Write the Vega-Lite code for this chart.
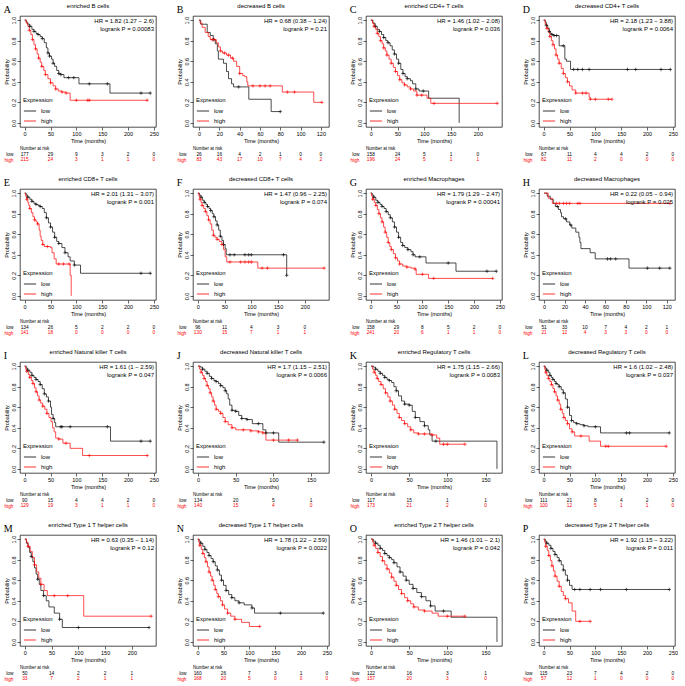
{
"$schema":"https://vega.github.io/schema/vega-lite/v6.json",
"padding":{"left":3,"top":2,"right":0,"bottom":0},
"columns":4,
"spacing":{"row":12,"column":17},
"resolve":{"scale":{"color":"independent"},"legend":{"color":"independent"}},
"datasets":{
"hr":[
{"p":"A","txt":"HR = 1.82 (1.27 − 2.6)\nlogrank P = 0.00083"},
{"p":"B","txt":"HR = 0.68 (0.38 − 1.24)\nlogrank P = 0.21"},
{"p":"C","txt":"HR = 1.46 (1.02 − 2.08)\nlogrank P = 0.036"},
{"p":"D","txt":"HR = 2.18 (1.23 − 3.88)\nlogrank P = 0.0064"},
{"p":"E","txt":"HR = 2.01 (1.31 − 3.07)\nlogrank P = 0.001"},
{"p":"F","txt":"HR = 1.47 (0.96 − 2.25)\nlogrank P = 0.074"},
{"p":"G","txt":"HR = 1.79 (1.29 − 2.47)\nlogrank P = 0.00041"},
{"p":"H","txt":"HR = 0.22 (0.05 − 0.94)\nlogrank P = 0.025"},
{"p":"I","txt":"HR = 1.61 (1 − 2.59)\nlogrank P = 0.047"},
{"p":"J","txt":"HR = 1.7 (1.15 − 2.51)\nlogrank P = 0.0066"},
{"p":"K","txt":"HR = 1.75 (1.15 − 2.66)\nlogrank P = 0.0083"},
{"p":"L","txt":"HR = 1.6 (1.02 − 2.48)\nlogrank P = 0.037"},
{"p":"M","txt":"HR = 0.63 (0.35 − 1.14)\nlogrank P = 0.12"},
{"p":"N","txt":"HR = 1.78 (1.22 − 2.59)\nlogrank P = 0.0022"},
{"p":"O","txt":"HR = 1.46 (1.01 − 2.1)\nlogrank P = 0.042"},
{"p":"P","txt":"HR = 1.92 (1.15 − 3.22)\nlogrank P = 0.011"}
],
"risk":[
{"p":"A","g":"low","t":0,"n":177},{"p":"A","g":"low","t":50,"n":29},{"p":"A","g":"low","t":100,"n":9},{"p":"A","g":"low","t":150,"n":3},{"p":"A","g":"low","t":200,"n":2},{"p":"A","g":"low","t":250,"n":0},
{"p":"A","g":"high","t":0,"n":215},{"p":"A","g":"high","t":50,"n":24},{"p":"A","g":"high","t":100,"n":3},{"p":"A","g":"high","t":150,"n":1},{"p":"A","g":"high","t":200,"n":1},{"p":"A","g":"high","t":250,"n":0},
{"p":"B","g":"low","t":0,"n":26},{"p":"B","g":"low","t":20,"n":16},{"p":"B","g":"low","t":40,"n":4},{"p":"B","g":"low","t":60,"n":2},{"p":"B","g":"low","t":80,"n":1},{"p":"B","g":"low","t":100,"n":0},{"p":"B","g":"low","t":120,"n":0},
{"p":"B","g":"high","t":0,"n":83},{"p":"B","g":"high","t":20,"n":43},{"p":"B","g":"high","t":40,"n":17},{"p":"B","g":"high","t":60,"n":10},{"p":"B","g":"high","t":80,"n":7},{"p":"B","g":"high","t":100,"n":4},{"p":"B","g":"high","t":120,"n":2},
{"p":"C","g":"low","t":0,"n":158},{"p":"C","g":"low","t":50,"n":24},{"p":"C","g":"low","t":100,"n":5},{"p":"C","g":"low","t":150,"n":1},{"p":"C","g":"low","t":200,"n":0},
{"p":"C","g":"high","t":0,"n":196},{"p":"C","g":"high","t":50,"n":24},{"p":"C","g":"high","t":100,"n":5},{"p":"C","g":"high","t":150,"n":1},{"p":"C","g":"high","t":200,"n":1},
{"p":"D","g":"low","t":0,"n":67},{"p":"D","g":"low","t":50,"n":11},{"p":"D","g":"low","t":100,"n":4},{"p":"D","g":"low","t":150,"n":4},{"p":"D","g":"low","t":200,"n":2},{"p":"D","g":"low","t":250,"n":0},
{"p":"D","g":"high","t":0,"n":82},{"p":"D","g":"high","t":50,"n":11},{"p":"D","g":"high","t":100,"n":2},{"p":"D","g":"high","t":150,"n":0},{"p":"D","g":"high","t":200,"n":0},{"p":"D","g":"high","t":250,"n":0},
{"p":"E","g":"low","t":0,"n":134},{"p":"E","g":"low","t":50,"n":26},{"p":"E","g":"low","t":100,"n":5},{"p":"E","g":"low","t":150,"n":2},{"p":"E","g":"low","t":200,"n":2},{"p":"E","g":"low","t":250,"n":0},
{"p":"E","g":"high","t":0,"n":141},{"p":"E","g":"high","t":50,"n":18},{"p":"E","g":"high","t":100,"n":0},{"p":"E","g":"high","t":150,"n":0},{"p":"E","g":"high","t":200,"n":0},{"p":"E","g":"high","t":250,"n":0},
{"p":"F","g":"low","t":0,"n":96},{"p":"F","g":"low","t":50,"n":11},{"p":"F","g":"low","t":100,"n":4},{"p":"F","g":"low","t":150,"n":3},{"p":"F","g":"low","t":200,"n":0},
{"p":"F","g":"high","t":0,"n":130},{"p":"F","g":"high","t":50,"n":15},{"p":"F","g":"high","t":100,"n":7},{"p":"F","g":"high","t":150,"n":1},{"p":"F","g":"high","t":200,"n":1},
{"p":"G","g":"low","t":0,"n":158},{"p":"G","g":"low","t":50,"n":29},{"p":"G","g":"low","t":100,"n":8},{"p":"G","g":"low","t":150,"n":5},{"p":"G","g":"low","t":200,"n":2},{"p":"G","g":"low","t":250,"n":0},
{"p":"G","g":"high","t":0,"n":241},{"p":"G","g":"high","t":50,"n":20},{"p":"G","g":"high","t":100,"n":6},{"p":"G","g":"high","t":150,"n":1},{"p":"G","g":"high","t":200,"n":1},{"p":"G","g":"high","t":250,"n":0},
{"p":"H","g":"low","t":0,"n":51},{"p":"H","g":"low","t":20,"n":33},{"p":"H","g":"low","t":40,"n":10},{"p":"H","g":"low","t":60,"n":7},{"p":"H","g":"low","t":80,"n":4},{"p":"H","g":"low","t":100,"n":2},{"p":"H","g":"low","t":120,"n":1},
{"p":"H","g":"high","t":0,"n":21},{"p":"H","g":"high","t":20,"n":12},{"p":"H","g":"high","t":40,"n":4},{"p":"H","g":"high","t":60,"n":3},{"p":"H","g":"high","t":80,"n":3},{"p":"H","g":"high","t":100,"n":0},{"p":"H","g":"high","t":120,"n":0},
{"p":"I","g":"low","t":0,"n":90},{"p":"I","g":"low","t":50,"n":15},{"p":"I","g":"low","t":100,"n":4},{"p":"I","g":"low","t":150,"n":4},{"p":"I","g":"low","t":200,"n":2},{"p":"I","g":"low","t":250,"n":0},
{"p":"I","g":"high","t":0,"n":129},{"p":"I","g":"high","t":50,"n":19},{"p":"I","g":"high","t":100,"n":3},{"p":"I","g":"high","t":150,"n":1},{"p":"I","g":"high","t":200,"n":1},{"p":"I","g":"high","t":250,"n":0},
{"p":"J","g":"low","t":0,"n":134},{"p":"J","g":"low","t":50,"n":20},{"p":"J","g":"low","t":100,"n":5},{"p":"J","g":"low","t":150,"n":1},
{"p":"J","g":"high","t":0,"n":140},{"p":"J","g":"high","t":50,"n":15},{"p":"J","g":"high","t":100,"n":4},{"p":"J","g":"high","t":150,"n":0},
{"p":"K","g":"low","t":0,"n":117},{"p":"K","g":"low","t":50,"n":15},{"p":"K","g":"low","t":100,"n":1},{"p":"K","g":"low","t":150,"n":1},
{"p":"K","g":"high","t":0,"n":173},{"p":"K","g":"high","t":50,"n":21},{"p":"K","g":"high","t":100,"n":2},{"p":"K","g":"high","t":150,"n":0},
{"p":"L","g":"low","t":0,"n":111},{"p":"L","g":"low","t":50,"n":21},{"p":"L","g":"low","t":100,"n":8},{"p":"L","g":"low","t":150,"n":4},{"p":"L","g":"low","t":200,"n":2},{"p":"L","g":"low","t":250,"n":0},
{"p":"L","g":"high","t":0,"n":100},{"p":"L","g":"high","t":50,"n":12},{"p":"L","g":"high","t":100,"n":5},{"p":"L","g":"high","t":150,"n":1},{"p":"L","g":"high","t":200,"n":1},{"p":"L","g":"high","t":250,"n":0},
{"p":"M","g":"low","t":0,"n":50},{"p":"M","g":"low","t":50,"n":14},{"p":"M","g":"low","t":100,"n":2},{"p":"M","g":"low","t":150,"n":2},{"p":"M","g":"low","t":200,"n":1},
{"p":"M","g":"high","t":0,"n":33},{"p":"M","g":"high","t":50,"n":7},{"p":"M","g":"high","t":100,"n":2},{"p":"M","g":"high","t":150,"n":1},{"p":"M","g":"high","t":200,"n":1},
{"p":"N","g":"low","t":0,"n":160},{"p":"N","g":"low","t":50,"n":26},{"p":"N","g":"low","t":100,"n":7},{"p":"N","g":"low","t":150,"n":3},{"p":"N","g":"low","t":200,"n":1},{"p":"N","g":"low","t":250,"n":0},
{"p":"N","g":"high","t":0,"n":168},{"p":"N","g":"high","t":50,"n":20},{"p":"N","g":"high","t":100,"n":5},{"p":"N","g":"high","t":150,"n":0},{"p":"N","g":"high","t":200,"n":0},{"p":"N","g":"high","t":250,"n":0},
{"p":"O","g":"low","t":0,"n":122},{"p":"O","g":"low","t":50,"n":16},{"p":"O","g":"low","t":100,"n":3},{"p":"O","g":"low","t":150,"n":1},
{"p":"O","g":"high","t":0,"n":157},{"p":"O","g":"high","t":50,"n":20},{"p":"O","g":"high","t":100,"n":3},{"p":"O","g":"high","t":150,"n":0},
{"p":"P","g":"low","t":0,"n":115},{"p":"P","g":"low","t":50,"n":23},{"p":"P","g":"low","t":100,"n":7},{"p":"P","g":"low","t":150,"n":4},{"p":"P","g":"low","t":200,"n":2},{"p":"P","g":"low","t":250,"n":0},
{"p":"P","g":"high","t":0,"n":57},{"p":"P","g":"high","t":50,"n":12},{"p":"P","g":"high","t":100,"n":1},{"p":"P","g":"high","t":150,"n":0},{"p":"P","g":"high","t":200,"n":0},{"p":"P","g":"high","t":250,"n":0}
],
"km":[
{"p":"A","g":"low","t":0,"s":1},{"p":"A","g":"low","t":3,"s":0.98},{"p":"A","g":"low","t":6,"s":0.96},{"p":"A","g":"low","t":10,"s":0.94,"c":1},{"p":"A","g":"low","t":14,"s":0.91},{"p":"A","g":"low","t":18,"s":0.89,"c":1},{"p":"A","g":"low","t":22,"s":0.87},{"p":"A","g":"low","t":26,"s":0.86,"c":1},{"p":"A","g":"low","t":30,"s":0.84},{"p":"A","g":"low","t":34,"s":0.82,"c":1},{"p":"A","g":"low","t":38,"s":0.78},{"p":"A","g":"low","t":42,"s":0.73},{"p":"A","g":"low","t":45,"s":0.68,"c":1},{"p":"A","g":"low","t":48,"s":0.65,"c":1},{"p":"A","g":"low","t":52,"s":0.62},{"p":"A","g":"low","t":55,"s":0.58,"c":1},{"p":"A","g":"low","t":58,"s":0.55},{"p":"A","g":"low","t":62,"s":0.51},{"p":"A","g":"low","t":66,"s":0.48,"c":1},{"p":"A","g":"low","t":70,"s":0.47,"c":1},{"p":"A","g":"low","t":76,"s":0.44},{"p":"A","g":"low","t":85,"s":0.44,"c":1},{"p":"A","g":"low","t":95,"s":0.44,"c":1},{"p":"A","g":"low","t":105,"s":0.38},{"p":"A","g":"low","t":125,"s":0.38,"c":1},{"p":"A","g":"low","t":160,"s":0.38,"c":1},{"p":"A","g":"low","t":165,"s":0.29},{"p":"A","g":"low","t":225,"s":0.29,"c":1},{"p":"A","g":"low","t":243,"s":0.29,"c":1},
{"p":"A","g":"high","t":0,"s":1},{"p":"A","g":"high","t":3,"s":0.97},{"p":"A","g":"high","t":6,"s":0.94},{"p":"A","g":"high","t":9,"s":0.9,"c":1},{"p":"A","g":"high","t":12,"s":0.86},{"p":"A","g":"high","t":15,"s":0.81,"c":1},{"p":"A","g":"high","t":18,"s":0.76},{"p":"A","g":"high","t":21,"s":0.72,"c":1},{"p":"A","g":"high","t":24,"s":0.67},{"p":"A","g":"high","t":27,"s":0.63,"c":1},{"p":"A","g":"high","t":30,"s":0.59},{"p":"A","g":"high","t":33,"s":0.55,"c":1},{"p":"A","g":"high","t":37,"s":0.51},{"p":"A","g":"high","t":40,"s":0.47,"c":1},{"p":"A","g":"high","t":45,"s":0.43},{"p":"A","g":"high","t":50,"s":0.39,"c":1},{"p":"A","g":"high","t":55,"s":0.36},{"p":"A","g":"high","t":60,"s":0.33,"c":1},{"p":"A","g":"high","t":65,"s":0.31},{"p":"A","g":"high","t":72,"s":0.3,"c":1},{"p":"A","g":"high","t":80,"s":0.29,"c":1},{"p":"A","g":"high","t":88,"s":0.22},{"p":"A","g":"high","t":100,"s":0.22,"c":1},{"p":"A","g":"high","t":122,"s":0.22,"c":1},{"p":"A","g":"high","t":125,"s":0.22,"c":1},{"p":"A","g":"high","t":237,"s":0.22,"c":1},
{"p":"B","g":"low","t":0,"s":1},{"p":"B","g":"low","t":1.6,"s":0.96},{"p":"B","g":"low","t":8,"s":0.88},{"p":"B","g":"low","t":11,"s":0.85},{"p":"B","g":"low","t":14,"s":0.81,"c":1},{"p":"B","g":"low","t":16,"s":0.77},{"p":"B","g":"low","t":18,"s":0.7},{"p":"B","g":"low","t":19,"s":0.62},{"p":"B","g":"low","t":24,"s":0.58},{"p":"B","g":"low","t":27,"s":0.5},{"p":"B","g":"low","t":29,"s":0.43},{"p":"B","g":"low","t":32,"s":0.38},{"p":"B","g":"low","t":34,"s":0.35},{"p":"B","g":"low","t":39,"s":0.35,"c":1},{"p":"B","g":"low","t":49,"s":0.23},{"p":"B","g":"low","t":71,"s":0.11},{"p":"B","g":"low","t":80,"s":0.11,"c":1},
{"p":"B","g":"high","t":0,"s":1},{"p":"B","g":"high","t":1,"s":0.97},{"p":"B","g":"high","t":3,"s":0.93},{"p":"B","g":"high","t":6,"s":0.88},{"p":"B","g":"high","t":9,"s":0.84},{"p":"B","g":"high","t":11,"s":0.81},{"p":"B","g":"high","t":13,"s":0.81,"c":1},{"p":"B","g":"high","t":15,"s":0.81,"c":1},{"p":"B","g":"high","t":17,"s":0.78},{"p":"B","g":"high","t":19,"s":0.74},{"p":"B","g":"high","t":21,"s":0.7,"c":1},{"p":"B","g":"high","t":23,"s":0.68},{"p":"B","g":"high","t":25,"s":0.68,"c":1},{"p":"B","g":"high","t":27,"s":0.66},{"p":"B","g":"high","t":29,"s":0.66,"c":1},{"p":"B","g":"high","t":31,"s":0.63},{"p":"B","g":"high","t":33,"s":0.63,"c":1},{"p":"B","g":"high","t":34,"s":0.6},{"p":"B","g":"high","t":37,"s":0.55},{"p":"B","g":"high","t":40,"s":0.48,"c":1},{"p":"B","g":"high","t":43,"s":0.46},{"p":"B","g":"high","t":45,"s":0.45},{"p":"B","g":"high","t":47,"s":0.4},{"p":"B","g":"high","t":48,"s":0.36},{"p":"B","g":"high","t":53,"s":0.36,"c":1},{"p":"B","g":"high","t":60,"s":0.36,"c":1},{"p":"B","g":"high","t":65,"s":0.36,"c":1},{"p":"B","g":"high","t":70,"s":0.36,"c":1},{"p":"B","g":"high","t":82,"s":0.3},{"p":"B","g":"high","t":87,"s":0.3,"c":1},{"p":"B","g":"high","t":94,"s":0.3,"c":1},{"p":"B","g":"high","t":113,"s":0.2},{"p":"B","g":"high","t":121,"s":0.2,"c":1},
{"p":"C","g":"low","t":0,"s":1},{"p":"C","g":"low","t":4,"s":0.97},{"p":"C","g":"low","t":8,"s":0.94,"c":1},{"p":"C","g":"low","t":12,"s":0.91},{"p":"C","g":"low","t":16,"s":0.89,"c":1},{"p":"C","g":"low","t":20,"s":0.86},{"p":"C","g":"low","t":24,"s":0.83,"c":1},{"p":"C","g":"low","t":28,"s":0.8},{"p":"C","g":"low","t":32,"s":0.78,"c":1},{"p":"C","g":"low","t":36,"s":0.75},{"p":"C","g":"low","t":40,"s":0.71},{"p":"C","g":"low","t":44,"s":0.67,"c":1},{"p":"C","g":"low","t":48,"s":0.62},{"p":"C","g":"low","t":52,"s":0.58,"c":1},{"p":"C","g":"low","t":56,"s":0.52},{"p":"C","g":"low","t":60,"s":0.48,"c":1},{"p":"C","g":"low","t":64,"s":0.45},{"p":"C","g":"low","t":68,"s":0.43,"c":1},{"p":"C","g":"low","t":74,"s":0.41},{"p":"C","g":"low","t":78,"s":0.38},{"p":"C","g":"low","t":84,"s":0.33,"c":1},{"p":"C","g":"low","t":90,"s":0.31},{"p":"C","g":"low","t":98,"s":0.31,"c":1},{"p":"C","g":"low","t":108,"s":0.24},{"p":"C","g":"low","t":165,"s":0},
{"p":"C","g":"high","t":0,"s":1},{"p":"C","g":"high","t":3,"s":0.97},{"p":"C","g":"high","t":6,"s":0.94,"c":1},{"p":"C","g":"high","t":9,"s":0.91},{"p":"C","g":"high","t":12,"s":0.87,"c":1},{"p":"C","g":"high","t":15,"s":0.84},{"p":"C","g":"high","t":18,"s":0.8,"c":1},{"p":"C","g":"high","t":21,"s":0.77},{"p":"C","g":"high","t":24,"s":0.73,"c":1},{"p":"C","g":"high","t":27,"s":0.7},{"p":"C","g":"high","t":30,"s":0.66,"c":1},{"p":"C","g":"high","t":34,"s":0.62},{"p":"C","g":"high","t":38,"s":0.58,"c":1},{"p":"C","g":"high","t":42,"s":0.54},{"p":"C","g":"high","t":46,"s":0.5,"c":1},{"p":"C","g":"high","t":50,"s":0.46},{"p":"C","g":"high","t":54,"s":0.42,"c":1},{"p":"C","g":"high","t":58,"s":0.39},{"p":"C","g":"high","t":63,"s":0.37,"c":1},{"p":"C","g":"high","t":68,"s":0.35},{"p":"C","g":"high","t":74,"s":0.33,"c":1},{"p":"C","g":"high","t":80,"s":0.31},{"p":"C","g":"high","t":86,"s":0.27,"c":1},{"p":"C","g":"high","t":95,"s":0.27,"c":1},{"p":"C","g":"high","t":105,"s":0.24},{"p":"C","g":"high","t":112,"s":0.19},{"p":"C","g":"high","t":118,"s":0.19,"c":1},{"p":"C","g":"high","t":236,"s":0.19,"c":1},
{"p":"D","g":"low","t":0,"s":1},{"p":"D","g":"low","t":3,"s":0.98},{"p":"D","g":"low","t":5,"s":0.95,"c":1},{"p":"D","g":"low","t":8,"s":0.92},{"p":"D","g":"low","t":11,"s":0.89,"c":1},{"p":"D","g":"low","t":13,"s":0.87},{"p":"D","g":"low","t":16,"s":0.86,"c":1},{"p":"D","g":"low","t":20,"s":0.85,"c":1},{"p":"D","g":"low","t":25,"s":0.85,"c":1},{"p":"D","g":"low","t":30,"s":0.75},{"p":"D","g":"low","t":38,"s":0.75,"c":1},{"p":"D","g":"low","t":41,"s":0.62},{"p":"D","g":"low","t":44,"s":0.6},{"p":"D","g":"low","t":52,"s":0.52},{"p":"D","g":"low","t":58,"s":0.52,"c":1},{"p":"D","g":"low","t":66,"s":0.52,"c":1},{"p":"D","g":"low","t":75,"s":0.52,"c":1},{"p":"D","g":"low","t":88,"s":0.52,"c":1},{"p":"D","g":"low","t":162,"s":0.52,"c":1},{"p":"D","g":"low","t":178,"s":0.52,"c":1},{"p":"D","g":"low","t":227,"s":0.52,"c":1},{"p":"D","g":"low","t":245,"s":0.52,"c":1},
{"p":"D","g":"high","t":0,"s":1},{"p":"D","g":"high","t":3,"s":0.96},{"p":"D","g":"high","t":6,"s":0.92,"c":1},{"p":"D","g":"high","t":9,"s":0.88},{"p":"D","g":"high","t":12,"s":0.84,"c":1},{"p":"D","g":"high","t":15,"s":0.8},{"p":"D","g":"high","t":18,"s":0.76,"c":1},{"p":"D","g":"high","t":21,"s":0.72},{"p":"D","g":"high","t":24,"s":0.66,"c":1},{"p":"D","g":"high","t":27,"s":0.62},{"p":"D","g":"high","t":30,"s":0.58,"c":1},{"p":"D","g":"high","t":34,"s":0.53},{"p":"D","g":"high","t":38,"s":0.48,"c":1},{"p":"D","g":"high","t":42,"s":0.44},{"p":"D","g":"high","t":46,"s":0.4,"c":1},{"p":"D","g":"high","t":50,"s":0.36},{"p":"D","g":"high","t":55,"s":0.32},{"p":"D","g":"high","t":62,"s":0.29,"c":1},{"p":"D","g":"high","t":75,"s":0.29,"c":1},{"p":"D","g":"high","t":82,"s":0.29,"c":1},{"p":"D","g":"high","t":88,"s":0.25},{"p":"D","g":"high","t":90,"s":0.23,"c":1},{"p":"D","g":"high","t":100,"s":0.23,"c":1},{"p":"D","g":"high","t":125,"s":0.23,"c":1},{"p":"D","g":"high","t":132,"s":0.23,"c":1},
{"p":"E","g":"low","t":0,"s":1},{"p":"E","g":"low","t":3,"s":0.98},{"p":"E","g":"low","t":6,"s":0.96,"c":1},{"p":"E","g":"low","t":10,"s":0.94},{"p":"E","g":"low","t":14,"s":0.92,"c":1},{"p":"E","g":"low","t":18,"s":0.9},{"p":"E","g":"low","t":22,"s":0.89,"c":1},{"p":"E","g":"low","t":26,"s":0.88},{"p":"E","g":"low","t":30,"s":0.87,"c":1},{"p":"E","g":"low","t":34,"s":0.85},{"p":"E","g":"low","t":38,"s":0.81},{"p":"E","g":"low","t":42,"s":0.76,"c":1},{"p":"E","g":"low","t":46,"s":0.71},{"p":"E","g":"low","t":50,"s":0.67,"c":1},{"p":"E","g":"low","t":54,"s":0.62},{"p":"E","g":"low","t":58,"s":0.57,"c":1},{"p":"E","g":"low","t":62,"s":0.53},{"p":"E","g":"low","t":66,"s":0.51,"c":1},{"p":"E","g":"low","t":72,"s":0.47},{"p":"E","g":"low","t":78,"s":0.42,"c":1},{"p":"E","g":"low","t":84,"s":0.38},{"p":"E","g":"low","t":88,"s":0.34},{"p":"E","g":"low","t":96,"s":0.3,"c":1},{"p":"E","g":"low","t":108,"s":0.22},{"p":"E","g":"low","t":225,"s":0.22,"c":1},{"p":"E","g":"low","t":243,"s":0.22,"c":1},
{"p":"E","g":"high","t":0,"s":1},{"p":"E","g":"high","t":2,"s":0.97},{"p":"E","g":"high","t":4,"s":0.94,"c":1},{"p":"E","g":"high","t":6,"s":0.91},{"p":"E","g":"high","t":8,"s":0.88},{"p":"E","g":"high","t":10,"s":0.85,"c":1},{"p":"E","g":"high","t":13,"s":0.81},{"p":"E","g":"high","t":16,"s":0.77},{"p":"E","g":"high","t":19,"s":0.74,"c":1},{"p":"E","g":"high","t":22,"s":0.72},{"p":"E","g":"high","t":25,"s":0.7,"c":1},{"p":"E","g":"high","t":28,"s":0.64},{"p":"E","g":"high","t":30,"s":0.58},{"p":"E","g":"high","t":32,"s":0.54},{"p":"E","g":"high","t":35,"s":0.5,"c":1},{"p":"E","g":"high","t":38,"s":0.48},{"p":"E","g":"high","t":44,"s":0.48,"c":1},{"p":"E","g":"high","t":50,"s":0.47},{"p":"E","g":"high","t":53,"s":0.42},{"p":"E","g":"high","t":57,"s":0.36},{"p":"E","g":"high","t":61,"s":0.31},{"p":"E","g":"high","t":66,"s":0.31,"c":1},{"p":"E","g":"high","t":75,"s":0.31,"c":1},{"p":"E","g":"high","t":86,"s":0.31,"c":1},{"p":"E","g":"high","t":88,"s":0.2},{"p":"E","g":"high","t":90,"s":0},
{"p":"F","g":"low","t":0,"s":1},{"p":"F","g":"low","t":3,"s":0.98},{"p":"F","g":"low","t":6,"s":0.96,"c":1},{"p":"F","g":"low","t":9,"s":0.93},{"p":"F","g":"low","t":12,"s":0.91,"c":1},{"p":"F","g":"low","t":15,"s":0.89},{"p":"F","g":"low","t":18,"s":0.87,"c":1},{"p":"F","g":"low","t":21,"s":0.85},{"p":"F","g":"low","t":24,"s":0.83,"c":1},{"p":"F","g":"low","t":27,"s":0.8},{"p":"F","g":"low","t":30,"s":0.77,"c":1},{"p":"F","g":"low","t":33,"s":0.73},{"p":"F","g":"low","t":36,"s":0.69,"c":1},{"p":"F","g":"low","t":39,"s":0.64},{"p":"F","g":"low","t":42,"s":0.58,"c":1},{"p":"F","g":"low","t":45,"s":0.54},{"p":"F","g":"low","t":48,"s":0.5,"c":1},{"p":"F","g":"low","t":51,"s":0.46},{"p":"F","g":"low","t":53,"s":0.4},{"p":"F","g":"low","t":60,"s":0.4,"c":1},{"p":"F","g":"low","t":68,"s":0.4,"c":1},{"p":"F","g":"low","t":88,"s":0.4,"c":1},{"p":"F","g":"low","t":95,"s":0.4,"c":1},{"p":"F","g":"low","t":100,"s":0.4,"c":1},{"p":"F","g":"low","t":160,"s":0.4,"c":1},{"p":"F","g":"low","t":166,"s":0.2,"c":1},
{"p":"F","g":"high","t":0,"s":1},{"p":"F","g":"high","t":2,"s":0.97},{"p":"F","g":"high","t":4,"s":0.94,"c":1},{"p":"F","g":"high","t":6,"s":0.91},{"p":"F","g":"high","t":8,"s":0.88,"c":1},{"p":"F","g":"high","t":11,"s":0.85},{"p":"F","g":"high","t":14,"s":0.82,"c":1},{"p":"F","g":"high","t":17,"s":0.78},{"p":"F","g":"high","t":20,"s":0.74,"c":1},{"p":"F","g":"high","t":23,"s":0.7},{"p":"F","g":"high","t":26,"s":0.64},{"p":"F","g":"high","t":29,"s":0.59,"c":1},{"p":"F","g":"high","t":32,"s":0.57},{"p":"F","g":"high","t":36,"s":0.55,"c":1},{"p":"F","g":"high","t":40,"s":0.53},{"p":"F","g":"high","t":45,"s":0.5,"c":1},{"p":"F","g":"high","t":48,"s":0.45},{"p":"F","g":"high","t":51,"s":0.38},{"p":"F","g":"high","t":54,"s":0.33},{"p":"F","g":"high","t":60,"s":0.33,"c":1},{"p":"F","g":"high","t":80,"s":0.33,"c":1},{"p":"F","g":"high","t":88,"s":0.33,"c":1},{"p":"F","g":"high","t":95,"s":0.33,"c":1},{"p":"F","g":"high","t":100,"s":0.33,"c":1},{"p":"F","g":"high","t":112,"s":0.27},{"p":"F","g":"high","t":120,"s":0.27,"c":1},{"p":"F","g":"high","t":130,"s":0.27,"c":1},{"p":"F","g":"high","t":236,"s":0.27,"c":1},
{"p":"G","g":"low","t":0,"s":1},{"p":"G","g":"low","t":3,"s":0.98},{"p":"G","g":"low","t":6,"s":0.96,"c":1},{"p":"G","g":"low","t":10,"s":0.93},{"p":"G","g":"low","t":14,"s":0.91,"c":1},{"p":"G","g":"low","t":18,"s":0.89},{"p":"G","g":"low","t":22,"s":0.87,"c":1},{"p":"G","g":"low","t":26,"s":0.85},{"p":"G","g":"low","t":30,"s":0.82,"c":1},{"p":"G","g":"low","t":34,"s":0.79},{"p":"G","g":"low","t":38,"s":0.76,"c":1},{"p":"G","g":"low","t":42,"s":0.72},{"p":"G","g":"low","t":46,"s":0.67,"c":1},{"p":"G","g":"low","t":50,"s":0.62},{"p":"G","g":"low","t":54,"s":0.57,"c":1},{"p":"G","g":"low","t":58,"s":0.52},{"p":"G","g":"low","t":62,"s":0.49,"c":1},{"p":"G","g":"low","t":66,"s":0.47},{"p":"G","g":"low","t":72,"s":0.45,"c":1},{"p":"G","g":"low","t":78,"s":0.43},{"p":"G","g":"low","t":82,"s":0.4,"c":1},{"p":"G","g":"low","t":86,"s":0.38},{"p":"G","g":"low","t":95,"s":0.38,"c":1},{"p":"G","g":"low","t":107,"s":0.32},{"p":"G","g":"low","t":150,"s":0.32,"c":1},{"p":"G","g":"low","t":165,"s":0.24},{"p":"G","g":"low","t":225,"s":0.24,"c":1},{"p":"G","g":"low","t":243,"s":0.24,"c":1},
{"p":"G","g":"high","t":0,"s":1},{"p":"G","g":"high","t":2,"s":0.97},{"p":"G","g":"high","t":4,"s":0.94,"c":1},{"p":"G","g":"high","t":7,"s":0.91},{"p":"G","g":"high","t":10,"s":0.88,"c":1},{"p":"G","g":"high","t":13,"s":0.84},{"p":"G","g":"high","t":16,"s":0.8,"c":1},{"p":"G","g":"high","t":19,"s":0.76},{"p":"G","g":"high","t":22,"s":0.72,"c":1},{"p":"G","g":"high","t":25,"s":0.67},{"p":"G","g":"high","t":28,"s":0.62,"c":1},{"p":"G","g":"high","t":31,"s":0.57},{"p":"G","g":"high","t":34,"s":0.52,"c":1},{"p":"G","g":"high","t":37,"s":0.48},{"p":"G","g":"high","t":40,"s":0.45,"c":1},{"p":"G","g":"high","t":44,"s":0.41},{"p":"G","g":"high","t":48,"s":0.37,"c":1},{"p":"G","g":"high","t":52,"s":0.34},{"p":"G","g":"high","t":56,"s":0.31,"c":1},{"p":"G","g":"high","t":62,"s":0.29},{"p":"G","g":"high","t":70,"s":0.28,"c":1},{"p":"G","g":"high","t":78,"s":0.27},{"p":"G","g":"high","t":86,"s":0.26,"c":1},{"p":"G","g":"high","t":88,"s":0.21},{"p":"G","g":"high","t":100,"s":0.21,"c":1},{"p":"G","g":"high","t":112,"s":0.17},{"p":"G","g":"high","t":122,"s":0.17,"c":1},{"p":"G","g":"high","t":236,"s":0.17,"c":1},
{"p":"H","g":"low","t":0,"s":1},{"p":"H","g":"low","t":3,"s":0.97},{"p":"H","g":"low","t":6,"s":0.94},{"p":"H","g":"low","t":9,"s":0.9},{"p":"H","g":"low","t":11,"s":0.87},{"p":"H","g":"low","t":13,"s":0.87,"c":1},{"p":"H","g":"low","t":14,"s":0.84},{"p":"H","g":"low","t":16,"s":0.81},{"p":"H","g":"low","t":17,"s":0.77},{"p":"H","g":"low","t":19,"s":0.75},{"p":"H","g":"low","t":21,"s":0.75,"c":1},{"p":"H","g":"low","t":22,"s":0.72},{"p":"H","g":"low","t":25,"s":0.69},{"p":"H","g":"low","t":26,"s":0.69,"c":1},{"p":"H","g":"low","t":27,"s":0.66},{"p":"H","g":"low","t":31,"s":0.62},{"p":"H","g":"low","t":34,"s":0.57},{"p":"H","g":"low","t":35,"s":0.52},{"p":"H","g":"low","t":36,"s":0.46},{"p":"H","g":"low","t":45,"s":0.42},{"p":"H","g":"low","t":50,"s":0.36},{"p":"H","g":"low","t":62,"s":0.36,"c":1},{"p":"H","g":"low","t":65,"s":0.36,"c":1},{"p":"H","g":"low","t":70,"s":0.36,"c":1},{"p":"H","g":"low","t":83,"s":0.27},{"p":"H","g":"low","t":101,"s":0.27,"c":1},{"p":"H","g":"low","t":113,"s":0.27,"c":1},{"p":"H","g":"low","t":123,"s":0.27,"c":1},
{"p":"H","g":"high","t":0,"s":1},{"p":"H","g":"high","t":4,"s":0.95},{"p":"H","g":"high","t":8,"s":0.9},{"p":"H","g":"high","t":12,"s":0.9,"c":1},{"p":"H","g":"high","t":15,"s":0.9,"c":1},{"p":"H","g":"high","t":19,"s":0.9,"c":1},{"p":"H","g":"high","t":22,"s":0.9,"c":1},{"p":"H","g":"high","t":25,"s":0.9,"c":1},{"p":"H","g":"high","t":33,"s":0.9,"c":1},{"p":"H","g":"high","t":35,"s":0.9,"c":1},{"p":"H","g":"high","t":123,"s":0.9,"c":1},
{"p":"I","g":"low","t":0,"s":1},{"p":"I","g":"low","t":3,"s":0.98},{"p":"I","g":"low","t":6,"s":0.96,"c":1},{"p":"I","g":"low","t":10,"s":0.94},{"p":"I","g":"low","t":14,"s":0.91,"c":1},{"p":"I","g":"low","t":18,"s":0.89},{"p":"I","g":"low","t":22,"s":0.87,"c":1},{"p":"I","g":"low","t":26,"s":0.85},{"p":"I","g":"low","t":30,"s":0.82,"c":1},{"p":"I","g":"low","t":34,"s":0.78},{"p":"I","g":"low","t":38,"s":0.73,"c":1},{"p":"I","g":"low","t":42,"s":0.7},{"p":"I","g":"low","t":46,"s":0.66,"c":1},{"p":"I","g":"low","t":50,"s":0.6},{"p":"I","g":"low","t":52,"s":0.53},{"p":"I","g":"low","t":55,"s":0.49,"c":1},{"p":"I","g":"low","t":58,"s":0.45},{"p":"I","g":"low","t":60,"s":0.41},{"p":"I","g":"low","t":70,"s":0.41,"c":1},{"p":"I","g":"low","t":72,"s":0.41,"c":1},{"p":"I","g":"low","t":88,"s":0.41,"c":1},{"p":"I","g":"low","t":160,"s":0.41,"c":1},{"p":"I","g":"low","t":166,"s":0.27},{"p":"I","g":"low","t":225,"s":0.27,"c":1},{"p":"I","g":"low","t":243,"s":0.27,"c":1},
{"p":"I","g":"high","t":0,"s":1},{"p":"I","g":"high","t":2,"s":0.97},{"p":"I","g":"high","t":4,"s":0.95,"c":1},{"p":"I","g":"high","t":7,"s":0.92},{"p":"I","g":"high","t":10,"s":0.89,"c":1},{"p":"I","g":"high","t":13,"s":0.86},{"p":"I","g":"high","t":16,"s":0.83,"c":1},{"p":"I","g":"high","t":19,"s":0.79},{"p":"I","g":"high","t":22,"s":0.75,"c":1},{"p":"I","g":"high","t":25,"s":0.71},{"p":"I","g":"high","t":28,"s":0.67,"c":1},{"p":"I","g":"high","t":31,"s":0.64},{"p":"I","g":"high","t":35,"s":0.61,"c":1},{"p":"I","g":"high","t":39,"s":0.58},{"p":"I","g":"high","t":43,"s":0.54,"c":1},{"p":"I","g":"high","t":47,"s":0.5},{"p":"I","g":"high","t":51,"s":0.46},{"p":"I","g":"high","t":54,"s":0.4},{"p":"I","g":"high","t":57,"s":0.36},{"p":"I","g":"high","t":60,"s":0.3},{"p":"I","g":"high","t":66,"s":0.29,"c":1},{"p":"I","g":"high","t":74,"s":0.25},{"p":"I","g":"high","t":80,"s":0.25,"c":1},{"p":"I","g":"high","t":88,"s":0.2},{"p":"I","g":"high","t":112,"s":0.13},{"p":"I","g":"high","t":125,"s":0.13,"c":1},{"p":"I","g":"high","t":237,"s":0.13,"c":1},
{"p":"J","g":"low","t":0,"s":1},{"p":"J","g":"low","t":3,"s":0.99},{"p":"J","g":"low","t":6,"s":0.97,"c":1},{"p":"J","g":"low","t":9,"s":0.95},{"p":"J","g":"low","t":12,"s":0.93,"c":1},{"p":"J","g":"low","t":15,"s":0.9},{"p":"J","g":"low","t":18,"s":0.88,"c":1},{"p":"J","g":"low","t":21,"s":0.86},{"p":"J","g":"low","t":24,"s":0.85,"c":1},{"p":"J","g":"low","t":27,"s":0.83},{"p":"J","g":"low","t":30,"s":0.81,"c":1},{"p":"J","g":"low","t":33,"s":0.79},{"p":"J","g":"low","t":36,"s":0.76,"c":1},{"p":"J","g":"low","t":38,"s":0.73},{"p":"J","g":"low","t":40,"s":0.68},{"p":"J","g":"low","t":42,"s":0.62},{"p":"J","g":"low","t":45,"s":0.57,"c":1},{"p":"J","g":"low","t":50,"s":0.56,"c":1},{"p":"J","g":"low","t":54,"s":0.52},{"p":"J","g":"low","t":58,"s":0.49,"c":1},{"p":"J","g":"low","t":65,"s":0.48,"c":1},{"p":"J","g":"low","t":72,"s":0.44},{"p":"J","g":"low","t":80,"s":0.44,"c":1},{"p":"J","g":"low","t":86,"s":0.38},{"p":"J","g":"low","t":90,"s":0.35,"c":1},{"p":"J","g":"low","t":100,"s":0.35,"c":1},{"p":"J","g":"low","t":107,"s":0.26},{"p":"J","g":"low","t":167,"s":0.26,"c":1},
{"p":"J","g":"high","t":0,"s":1},{"p":"J","g":"high","t":2,"s":0.97},{"p":"J","g":"high","t":4,"s":0.94,"c":1},{"p":"J","g":"high","t":6,"s":0.91},{"p":"J","g":"high","t":8,"s":0.88,"c":1},{"p":"J","g":"high","t":10,"s":0.85},{"p":"J","g":"high","t":12,"s":0.81,"c":1},{"p":"J","g":"high","t":14,"s":0.78},{"p":"J","g":"high","t":16,"s":0.74,"c":1},{"p":"J","g":"high","t":18,"s":0.7},{"p":"J","g":"high","t":20,"s":0.66,"c":1},{"p":"J","g":"high","t":22,"s":0.62},{"p":"J","g":"high","t":24,"s":0.58,"c":1},{"p":"J","g":"high","t":27,"s":0.56},{"p":"J","g":"high","t":30,"s":0.54,"c":1},{"p":"J","g":"high","t":33,"s":0.5},{"p":"J","g":"high","t":36,"s":0.46,"c":1},{"p":"J","g":"high","t":40,"s":0.43},{"p":"J","g":"high","t":45,"s":0.4,"c":1},{"p":"J","g":"high","t":50,"s":0.38},{"p":"J","g":"high","t":60,"s":0.38,"c":1},{"p":"J","g":"high","t":70,"s":0.37,"c":1},{"p":"J","g":"high","t":80,"s":0.36,"c":1},{"p":"J","g":"high","t":86,"s":0.35,"c":1},{"p":"J","g":"high","t":90,"s":0.28},{"p":"J","g":"high","t":100,"s":0.28,"c":1},{"p":"J","g":"high","t":120,"s":0.28,"c":1},{"p":"J","g":"high","t":132,"s":0.28,"c":1},
{"p":"K","g":"low","t":0,"s":1},{"p":"K","g":"low","t":3,"s":0.99},{"p":"K","g":"low","t":6,"s":0.97,"c":1},{"p":"K","g":"low","t":9,"s":0.95},{"p":"K","g":"low","t":12,"s":0.93,"c":1},{"p":"K","g":"low","t":15,"s":0.91},{"p":"K","g":"low","t":18,"s":0.89,"c":1},{"p":"K","g":"low","t":21,"s":0.87},{"p":"K","g":"low","t":24,"s":0.86,"c":1},{"p":"K","g":"low","t":27,"s":0.84},{"p":"K","g":"low","t":30,"s":0.8},{"p":"K","g":"low","t":33,"s":0.76,"c":1},{"p":"K","g":"low","t":36,"s":0.71},{"p":"K","g":"low","t":40,"s":0.66},{"p":"K","g":"low","t":44,"s":0.63,"c":1},{"p":"K","g":"low","t":50,"s":0.62,"c":1},{"p":"K","g":"low","t":54,"s":0.56},{"p":"K","g":"low","t":58,"s":0.5,"c":1},{"p":"K","g":"low","t":64,"s":0.46},{"p":"K","g":"low","t":70,"s":0.42,"c":1},{"p":"K","g":"low","t":75,"s":0.38},{"p":"K","g":"low","t":77,"s":0.33},{"p":"K","g":"low","t":80,"s":0.27},{"p":"K","g":"low","t":85,"s":0.27,"c":1},{"p":"K","g":"low","t":165,"s":0},
{"p":"K","g":"high","t":0,"s":1},{"p":"K","g":"high","t":2,"s":0.97},{"p":"K","g":"high","t":4,"s":0.94,"c":1},{"p":"K","g":"high","t":6,"s":0.91},{"p":"K","g":"high","t":8,"s":0.88,"c":1},{"p":"K","g":"high","t":10,"s":0.85},{"p":"K","g":"high","t":13,"s":0.82,"c":1},{"p":"K","g":"high","t":16,"s":0.78},{"p":"K","g":"high","t":19,"s":0.74,"c":1},{"p":"K","g":"high","t":22,"s":0.7},{"p":"K","g":"high","t":25,"s":0.66,"c":1},{"p":"K","g":"high","t":28,"s":0.62},{"p":"K","g":"high","t":31,"s":0.58,"c":1},{"p":"K","g":"high","t":34,"s":0.54},{"p":"K","g":"high","t":37,"s":0.5,"c":1},{"p":"K","g":"high","t":40,"s":0.47},{"p":"K","g":"high","t":44,"s":0.44,"c":1},{"p":"K","g":"high","t":48,"s":0.41},{"p":"K","g":"high","t":52,"s":0.38,"c":1},{"p":"K","g":"high","t":56,"s":0.35},{"p":"K","g":"high","t":62,"s":0.34,"c":1},{"p":"K","g":"high","t":70,"s":0.34,"c":1},{"p":"K","g":"high","t":80,"s":0.33,"c":1},{"p":"K","g":"high","t":86,"s":0.3},{"p":"K","g":"high","t":90,"s":0.24},{"p":"K","g":"high","t":95,"s":0.24,"c":1},{"p":"K","g":"high","t":100,"s":0.24,"c":1},{"p":"K","g":"high","t":123,"s":0.24,"c":1},
{"p":"L","g":"low","t":0,"s":1},{"p":"L","g":"low","t":3,"s":0.98},{"p":"L","g":"low","t":6,"s":0.96,"c":1},{"p":"L","g":"low","t":9,"s":0.94},{"p":"L","g":"low","t":12,"s":0.91,"c":1},{"p":"L","g":"low","t":15,"s":0.89},{"p":"L","g":"low","t":18,"s":0.87,"c":1},{"p":"L","g":"low","t":21,"s":0.85},{"p":"L","g":"low","t":24,"s":0.83,"c":1},{"p":"L","g":"low","t":27,"s":0.82},{"p":"L","g":"low","t":30,"s":0.8,"c":1},{"p":"L","g":"low","t":34,"s":0.77},{"p":"L","g":"low","t":38,"s":0.74,"c":1},{"p":"L","g":"low","t":42,"s":0.68},{"p":"L","g":"low","t":46,"s":0.6,"c":1},{"p":"L","g":"low","t":50,"s":0.52},{"p":"L","g":"low","t":54,"s":0.47,"c":1},{"p":"L","g":"low","t":58,"s":0.45},{"p":"L","g":"low","t":64,"s":0.44,"c":1},{"p":"L","g":"low","t":70,"s":0.43},{"p":"L","g":"low","t":78,"s":0.42,"c":1},{"p":"L","g":"low","t":86,"s":0.41},{"p":"L","g":"low","t":100,"s":0.41,"c":1},{"p":"L","g":"low","t":110,"s":0.35},{"p":"L","g":"low","t":160,"s":0.35,"c":1},{"p":"L","g":"low","t":166,"s":0.35,"c":1},{"p":"L","g":"low","t":243,"s":0.35,"c":1},
{"p":"L","g":"high","t":0,"s":1},{"p":"L","g":"high","t":2,"s":0.97},{"p":"L","g":"high","t":4,"s":0.94,"c":1},{"p":"L","g":"high","t":6,"s":0.91},{"p":"L","g":"high","t":9,"s":0.88,"c":1},{"p":"L","g":"high","t":12,"s":0.85},{"p":"L","g":"high","t":15,"s":0.82,"c":1},{"p":"L","g":"high","t":18,"s":0.78},{"p":"L","g":"high","t":21,"s":0.75,"c":1},{"p":"L","g":"high","t":24,"s":0.71},{"p":"L","g":"high","t":27,"s":0.67,"c":1},{"p":"L","g":"high","t":30,"s":0.63},{"p":"L","g":"high","t":33,"s":0.58,"c":1},{"p":"L","g":"high","t":36,"s":0.54},{"p":"L","g":"high","t":39,"s":0.5,"c":1},{"p":"L","g":"high","t":42,"s":0.47},{"p":"L","g":"high","t":46,"s":0.44,"c":1},{"p":"L","g":"high","t":50,"s":0.39},{"p":"L","g":"high","t":55,"s":0.36,"c":1},{"p":"L","g":"high","t":60,"s":0.32},{"p":"L","g":"high","t":72,"s":0.32,"c":1},{"p":"L","g":"high","t":88,"s":0.27},{"p":"L","g":"high","t":110,"s":0.22},{"p":"L","g":"high","t":120,"s":0.22,"c":1},{"p":"L","g":"high","t":125,"s":0.22,"c":1},{"p":"L","g":"high","t":237,"s":0.22,"c":1},
{"p":"M","g":"low","t":0,"s":1},{"p":"M","g":"low","t":3,"s":0.96},{"p":"M","g":"low","t":6,"s":0.92},{"p":"M","g":"low","t":9,"s":0.87},{"p":"M","g":"low","t":12,"s":0.83,"c":1},{"p":"M","g":"low","t":15,"s":0.78},{"p":"M","g":"low","t":18,"s":0.72},{"p":"M","g":"low","t":21,"s":0.66},{"p":"M","g":"low","t":24,"s":0.61,"c":1},{"p":"M","g":"low","t":27,"s":0.56},{"p":"M","g":"low","t":30,"s":0.5},{"p":"M","g":"low","t":35,"s":0.45,"c":1},{"p":"M","g":"low","t":40,"s":0.4},{"p":"M","g":"low","t":45,"s":0.34},{"p":"M","g":"low","t":55,"s":0.28},{"p":"M","g":"low","t":65,"s":0.22,"c":1},{"p":"M","g":"low","t":70,"s":0.14},{"p":"M","g":"low","t":100,"s":0.14,"c":1},{"p":"M","g":"low","t":232,"s":0.14,"c":1},
{"p":"M","g":"high","t":0,"s":1},{"p":"M","g":"high","t":3,"s":0.97},{"p":"M","g":"high","t":6,"s":0.93,"c":1},{"p":"M","g":"high","t":10,"s":0.88},{"p":"M","g":"high","t":14,"s":0.82},{"p":"M","g":"high","t":18,"s":0.75,"c":1},{"p":"M","g":"high","t":22,"s":0.68},{"p":"M","g":"high","t":26,"s":0.62},{"p":"M","g":"high","t":30,"s":0.56,"c":1},{"p":"M","g":"high","t":36,"s":0.5},{"p":"M","g":"high","t":42,"s":0.45},{"p":"M","g":"high","t":55,"s":0.45,"c":1},{"p":"M","g":"high","t":80,"s":0.45,"c":1},{"p":"M","g":"high","t":110,"s":0.25},{"p":"M","g":"high","t":236,"s":0.25,"c":1},
{"p":"N","g":"low","t":0,"s":1},{"p":"N","g":"low","t":3,"s":0.98},{"p":"N","g":"low","t":6,"s":0.96,"c":1},{"p":"N","g":"low","t":10,"s":0.93},{"p":"N","g":"low","t":14,"s":0.9,"c":1},{"p":"N","g":"low","t":18,"s":0.87},{"p":"N","g":"low","t":22,"s":0.84,"c":1},{"p":"N","g":"low","t":26,"s":0.81},{"p":"N","g":"low","t":30,"s":0.78,"c":1},{"p":"N","g":"low","t":34,"s":0.74},{"p":"N","g":"low","t":38,"s":0.7,"c":1},{"p":"N","g":"low","t":42,"s":0.65},{"p":"N","g":"low","t":46,"s":0.6,"c":1},{"p":"N","g":"low","t":50,"s":0.55},{"p":"N","g":"low","t":55,"s":0.5,"c":1},{"p":"N","g":"low","t":60,"s":0.46},{"p":"N","g":"low","t":66,"s":0.43,"c":1},{"p":"N","g":"low","t":72,"s":0.4},{"p":"N","g":"low","t":80,"s":0.38,"c":1},{"p":"N","g":"low","t":90,"s":0.36},{"p":"N","g":"low","t":105,"s":0.33,"c":1},{"p":"N","g":"low","t":110,"s":0.28},{"p":"N","g":"low","t":160,"s":0.28,"c":1},{"p":"N","g":"low","t":243,"s":0.28,"c":1},
{"p":"N","g":"high","t":0,"s":1},{"p":"N","g":"high","t":2,"s":0.97},{"p":"N","g":"high","t":4,"s":0.94,"c":1},{"p":"N","g":"high","t":7,"s":0.9},{"p":"N","g":"high","t":10,"s":0.86,"c":1},{"p":"N","g":"high","t":13,"s":0.82},{"p":"N","g":"high","t":16,"s":0.78,"c":1},{"p":"N","g":"high","t":19,"s":0.73},{"p":"N","g":"high","t":22,"s":0.68,"c":1},{"p":"N","g":"high","t":25,"s":0.64},{"p":"N","g":"high","t":28,"s":0.6,"c":1},{"p":"N","g":"high","t":31,"s":0.55},{"p":"N","g":"high","t":34,"s":0.51,"c":1},{"p":"N","g":"high","t":37,"s":0.47},{"p":"N","g":"high","t":40,"s":0.44,"c":1},{"p":"N","g":"high","t":44,"s":0.4},{"p":"N","g":"high","t":48,"s":0.36,"c":1},{"p":"N","g":"high","t":52,"s":0.32},{"p":"N","g":"high","t":58,"s":0.28,"c":1},{"p":"N","g":"high","t":64,"s":0.25},{"p":"N","g":"high","t":72,"s":0.22,"c":1},{"p":"N","g":"high","t":85,"s":0.19},{"p":"N","g":"high","t":100,"s":0.15},{"p":"N","g":"high","t":120,"s":0.15,"c":1},
{"p":"O","g":"low","t":0,"s":1},{"p":"O","g":"low","t":3,"s":0.98},{"p":"O","g":"low","t":6,"s":0.96,"c":1},{"p":"O","g":"low","t":9,"s":0.94},{"p":"O","g":"low","t":12,"s":0.91,"c":1},{"p":"O","g":"low","t":15,"s":0.89},{"p":"O","g":"low","t":18,"s":0.86,"c":1},{"p":"O","g":"low","t":21,"s":0.84},{"p":"O","g":"low","t":24,"s":0.82,"c":1},{"p":"O","g":"low","t":27,"s":0.8},{"p":"O","g":"low","t":30,"s":0.77,"c":1},{"p":"O","g":"low","t":34,"s":0.73},{"p":"O","g":"low","t":38,"s":0.68,"c":1},{"p":"O","g":"low","t":42,"s":0.64},{"p":"O","g":"low","t":46,"s":0.6,"c":1},{"p":"O","g":"low","t":50,"s":0.56},{"p":"O","g":"low","t":55,"s":0.52,"c":1},{"p":"O","g":"low","t":60,"s":0.48},{"p":"O","g":"low","t":66,"s":0.44,"c":1},{"p":"O","g":"low","t":72,"s":0.4},{"p":"O","g":"low","t":78,"s":0.35,"c":1},{"p":"O","g":"low","t":84,"s":0.3},{"p":"O","g":"low","t":95,"s":0.3,"c":1},{"p":"O","g":"low","t":105,"s":0.24},{"p":"O","g":"low","t":165,"s":0},
{"p":"O","g":"high","t":0,"s":1},{"p":"O","g":"high","t":2,"s":0.97},{"p":"O","g":"high","t":4,"s":0.94,"c":1},{"p":"O","g":"high","t":6,"s":0.91},{"p":"O","g":"high","t":9,"s":0.87,"c":1},{"p":"O","g":"high","t":12,"s":0.83},{"p":"O","g":"high","t":15,"s":0.79,"c":1},{"p":"O","g":"high","t":18,"s":0.75},{"p":"O","g":"high","t":21,"s":0.71,"c":1},{"p":"O","g":"high","t":24,"s":0.67},{"p":"O","g":"high","t":27,"s":0.63,"c":1},{"p":"O","g":"high","t":30,"s":0.59},{"p":"O","g":"high","t":33,"s":0.55,"c":1},{"p":"O","g":"high","t":36,"s":0.51},{"p":"O","g":"high","t":40,"s":0.47,"c":1},{"p":"O","g":"high","t":44,"s":0.43},{"p":"O","g":"high","t":48,"s":0.4,"c":1},{"p":"O","g":"high","t":52,"s":0.37},{"p":"O","g":"high","t":56,"s":0.34,"c":1},{"p":"O","g":"high","t":62,"s":0.31},{"p":"O","g":"high","t":70,"s":0.3,"c":1},{"p":"O","g":"high","t":80,"s":0.28},{"p":"O","g":"high","t":88,"s":0.25},{"p":"O","g":"high","t":100,"s":0.25,"c":1},{"p":"O","g":"high","t":123,"s":0.25,"c":1},
{"p":"P","g":"low","t":0,"s":1},{"p":"P","g":"low","t":3,"s":0.98},{"p":"P","g":"low","t":6,"s":0.96,"c":1},{"p":"P","g":"low","t":10,"s":0.94},{"p":"P","g":"low","t":14,"s":0.91,"c":1},{"p":"P","g":"low","t":18,"s":0.88},{"p":"P","g":"low","t":22,"s":0.85,"c":1},{"p":"P","g":"low","t":26,"s":0.82},{"p":"P","g":"low","t":30,"s":0.79,"c":1},{"p":"P","g":"low","t":34,"s":0.75},{"p":"P","g":"low","t":38,"s":0.7,"c":1},{"p":"P","g":"low","t":42,"s":0.65},{"p":"P","g":"low","t":46,"s":0.6,"c":1},{"p":"P","g":"low","t":50,"s":0.55},{"p":"P","g":"low","t":55,"s":0.51},{"p":"P","g":"low","t":60,"s":0.51,"c":1},{"p":"P","g":"low","t":70,"s":0.51,"c":1},{"p":"P","g":"low","t":90,"s":0.51,"c":1},{"p":"P","g":"low","t":110,"s":0.51,"c":1},{"p":"P","g":"low","t":160,"s":0.51,"c":1},{"p":"P","g":"low","t":243,"s":0.51,"c":1},
{"p":"P","g":"high","t":0,"s":1},{"p":"P","g":"high","t":2,"s":0.97},{"p":"P","g":"high","t":4,"s":0.93,"c":1},{"p":"P","g":"high","t":7,"s":0.89},{"p":"P","g":"high","t":10,"s":0.84,"c":1},{"p":"P","g":"high","t":13,"s":0.79},{"p":"P","g":"high","t":16,"s":0.74,"c":1},{"p":"P","g":"high","t":19,"s":0.69},{"p":"P","g":"high","t":22,"s":0.64,"c":1},{"p":"P","g":"high","t":26,"s":0.59},{"p":"P","g":"high","t":30,"s":0.54,"c":1},{"p":"P","g":"high","t":34,"s":0.49},{"p":"P","g":"high","t":38,"s":0.45},{"p":"P","g":"high","t":42,"s":0.42,"c":1},{"p":"P","g":"high","t":48,"s":0.38},{"p":"P","g":"high","t":55,"s":0.3},{"p":"P","g":"high","t":62,"s":0.2},{"p":"P","g":"high","t":70,"s":0.2,"c":1},{"p":"P","g":"high","t":90,"s":0.2,"c":1}
]
},
"concat":[
{"title":{"text":"A","anchor":"start","frame":"bounds","font":"Liberation Serif","fontSize":10,"offset":-12},"resolve":{"scale":{"color":"independent"},"legend":{"color":"independent"}},"vconcat":[{"width":136,"height":111,"title":"enriched B cells","layer":[
{"data":{"name":"km"},"transform":[{"filter":"datum.p=='A'"}],"mark":{"type":"line","interpolate":"step-after","strokeWidth":0.7},"encoding":{"x":{"field":"t","type":"quantitative","scale":{"domain":[-9,254],"nice":false,"zero":false},"axis":{"values":[0,50,100,150,200,250],"tickCount":20,"title":"Time (months)"}},"y":{"field":"s","type":"quantitative","scale":{"domain":[-0.04,1.04],"nice":false,"zero":false},"axis":{"values":[0,0.2,0.4,0.6,0.8,1],"tickCount":20,"format":".1f","title":"Probability","labelAngle":-90,"labelOverlap":false,"labelBound":false}},"color":{"field":"g","type":"nominal","scale":{"domain":["low","high"],"range":["#000000","#ff0000"]},"legend":{"title":"Expression"}}}},
{"data":{"name":"km"},"transform":[{"filter":"datum.p=='A' && datum.c==1"}],"mark":{"type":"point","shape":"M-1,0H1M0,-1V1","size":12,"filled":false,"strokeWidth":0.6,"opacity":1},"encoding":{"x":{"field":"t","type":"quantitative"},"y":{"field":"s","type":"quantitative"},"color":{"field":"g","type":"nominal","legend":null}}},
{"data":{"name":"hr"},"transform":[{"filter":"datum.p=='A'"}],"mark":{"type":"text","align":"right","baseline":"top","lineBreak":"\n","fontSize":6,"dx":-2,"dy":2},"encoding":{"x":{"datum":254},"y":{"datum":1.04},"text":{"field":"txt"}}}]},
{"width":136,"height":11,"view":{"stroke":null},"title":{"text":"Number at risk","anchor":"start","frame":"group","fontSize":4.5,"offset":1},"data":{"name":"risk"},"transform":[{"filter":"datum.p=='A'"}],"mark":{"type":"text","fontSize":4.8},"encoding":{"x":{"field":"t","type":"quantitative","scale":{"domain":[-9,254],"nice":false,"zero":false},"axis":null},"y":{"field":"g","type":"nominal","sort":["low","high"],"axis":{"title":null,"domain":false,"ticks":false,"labelAngle":0,"labelFontSize":4.8,"labelPadding":7,"labelColor":{"condition":{"test":"datum.value==='high'","value":"#ff0000"},"value":"#000000"}}},"text":{"field":"n","type":"nominal"},"color":{"field":"g","type":"nominal","scale":{"domain":["low","high"],"range":["#000000","#ff0000"]},"legend":null}}}]},
{"title":{"text":"B","anchor":"start","frame":"bounds","font":"Liberation Serif","fontSize":10,"offset":-12},"resolve":{"scale":{"color":"independent"},"legend":{"color":"independent"}},"vconcat":[{"width":136,"height":111,"title":"decreased B cells","layer":[
{"data":{"name":"km"},"transform":[{"filter":"datum.p=='B'"}],"mark":{"type":"line","interpolate":"step-after","strokeWidth":0.7},"encoding":{"x":{"field":"t","type":"quantitative","scale":{"domain":[-6,128],"nice":false,"zero":false},"axis":{"values":[0,20,40,60,80,100,120],"tickCount":20,"title":"Time (months)"}},"y":{"field":"s","type":"quantitative","scale":{"domain":[-0.04,1.04],"nice":false,"zero":false},"axis":{"values":[0,0.2,0.4,0.6,0.8,1],"tickCount":20,"format":".1f","title":"Probability","labelAngle":-90,"labelOverlap":false,"labelBound":false}},"color":{"field":"g","type":"nominal","scale":{"domain":["low","high"],"range":["#000000","#ff0000"]},"legend":{"title":"Expression"}}}},
{"data":{"name":"km"},"transform":[{"filter":"datum.p=='B' && datum.c==1"}],"mark":{"type":"point","shape":"M-1,0H1M0,-1V1","size":12,"filled":false,"strokeWidth":0.6,"opacity":1},"encoding":{"x":{"field":"t","type":"quantitative"},"y":{"field":"s","type":"quantitative"},"color":{"field":"g","type":"nominal","legend":null}}},
{"data":{"name":"hr"},"transform":[{"filter":"datum.p=='B'"}],"mark":{"type":"text","align":"right","baseline":"top","lineBreak":"\n","fontSize":6,"dx":-2,"dy":2},"encoding":{"x":{"datum":128},"y":{"datum":1.04},"text":{"field":"txt"}}}]},
{"width":136,"height":11,"view":{"stroke":null},"title":{"text":"Number at risk","anchor":"start","frame":"group","fontSize":4.5,"offset":1},"data":{"name":"risk"},"transform":[{"filter":"datum.p=='B'"}],"mark":{"type":"text","fontSize":4.8},"encoding":{"x":{"field":"t","type":"quantitative","scale":{"domain":[-6,128],"nice":false,"zero":false},"axis":null},"y":{"field":"g","type":"nominal","sort":["low","high"],"axis":{"title":null,"domain":false,"ticks":false,"labelAngle":0,"labelFontSize":4.8,"labelPadding":7,"labelColor":{"condition":{"test":"datum.value==='high'","value":"#ff0000"},"value":"#000000"}}},"text":{"field":"n","type":"nominal"},"color":{"field":"g","type":"nominal","scale":{"domain":["low","high"],"range":["#000000","#ff0000"]},"legend":null}}}]},
{"title":{"text":"C","anchor":"start","frame":"bounds","font":"Liberation Serif","fontSize":10,"offset":-12},"resolve":{"scale":{"color":"independent"},"legend":{"color":"independent"}},"vconcat":[{"width":136,"height":111,"title":"enriched CD4+ T cells","layer":[
{"data":{"name":"km"},"transform":[{"filter":"datum.p=='C'"}],"mark":{"type":"line","interpolate":"step-after","strokeWidth":0.7},"encoding":{"x":{"field":"t","type":"quantitative","scale":{"domain":[-9,245],"nice":false,"zero":false},"axis":{"values":[0,50,100,150,200],"tickCount":20,"title":"Time (months)"}},"y":{"field":"s","type":"quantitative","scale":{"domain":[-0.04,1.04],"nice":false,"zero":false},"axis":{"values":[0,0.2,0.4,0.6,0.8,1],"tickCount":20,"format":".1f","title":"Probability","labelAngle":-90,"labelOverlap":false,"labelBound":false}},"color":{"field":"g","type":"nominal","scale":{"domain":["low","high"],"range":["#000000","#ff0000"]},"legend":{"title":"Expression"}}}},
{"data":{"name":"km"},"transform":[{"filter":"datum.p=='C' && datum.c==1"}],"mark":{"type":"point","shape":"M-1,0H1M0,-1V1","size":12,"filled":false,"strokeWidth":0.6,"opacity":1},"encoding":{"x":{"field":"t","type":"quantitative"},"y":{"field":"s","type":"quantitative"},"color":{"field":"g","type":"nominal","legend":null}}},
{"data":{"name":"hr"},"transform":[{"filter":"datum.p=='C'"}],"mark":{"type":"text","align":"right","baseline":"top","lineBreak":"\n","fontSize":6,"dx":-2,"dy":2},"encoding":{"x":{"datum":245},"y":{"datum":1.04},"text":{"field":"txt"}}}]},
{"width":136,"height":11,"view":{"stroke":null},"title":{"text":"Number at risk","anchor":"start","frame":"group","fontSize":4.5,"offset":1},"data":{"name":"risk"},"transform":[{"filter":"datum.p=='C'"}],"mark":{"type":"text","fontSize":4.8},"encoding":{"x":{"field":"t","type":"quantitative","scale":{"domain":[-9,245],"nice":false,"zero":false},"axis":null},"y":{"field":"g","type":"nominal","sort":["low","high"],"axis":{"title":null,"domain":false,"ticks":false,"labelAngle":0,"labelFontSize":4.8,"labelPadding":7,"labelColor":{"condition":{"test":"datum.value==='high'","value":"#ff0000"},"value":"#000000"}}},"text":{"field":"n","type":"nominal"},"color":{"field":"g","type":"nominal","scale":{"domain":["low","high"],"range":["#000000","#ff0000"]},"legend":null}}}]},
{"title":{"text":"D","anchor":"start","frame":"bounds","font":"Liberation Serif","fontSize":10,"offset":-12},"resolve":{"scale":{"color":"independent"},"legend":{"color":"independent"}},"vconcat":[{"width":136,"height":111,"title":"decreased CD4+ T cells","layer":[
{"data":{"name":"km"},"transform":[{"filter":"datum.p=='D'"}],"mark":{"type":"line","interpolate":"step-after","strokeWidth":0.7},"encoding":{"x":{"field":"t","type":"quantitative","scale":{"domain":[-9,254],"nice":false,"zero":false},"axis":{"values":[0,50,100,150,200,250],"tickCount":20,"title":"Time (months)"}},"y":{"field":"s","type":"quantitative","scale":{"domain":[-0.04,1.04],"nice":false,"zero":false},"axis":{"values":[0,0.2,0.4,0.6,0.8,1],"tickCount":20,"format":".1f","title":"Probability","labelAngle":-90,"labelOverlap":false,"labelBound":false}},"color":{"field":"g","type":"nominal","scale":{"domain":["low","high"],"range":["#000000","#ff0000"]},"legend":{"title":"Expression"}}}},
{"data":{"name":"km"},"transform":[{"filter":"datum.p=='D' && datum.c==1"}],"mark":{"type":"point","shape":"M-1,0H1M0,-1V1","size":12,"filled":false,"strokeWidth":0.6,"opacity":1},"encoding":{"x":{"field":"t","type":"quantitative"},"y":{"field":"s","type":"quantitative"},"color":{"field":"g","type":"nominal","legend":null}}},
{"data":{"name":"hr"},"transform":[{"filter":"datum.p=='D'"}],"mark":{"type":"text","align":"right","baseline":"top","lineBreak":"\n","fontSize":6,"dx":-2,"dy":2},"encoding":{"x":{"datum":254},"y":{"datum":1.04},"text":{"field":"txt"}}}]},
{"width":136,"height":11,"view":{"stroke":null},"title":{"text":"Number at risk","anchor":"start","frame":"group","fontSize":4.5,"offset":1},"data":{"name":"risk"},"transform":[{"filter":"datum.p=='D'"}],"mark":{"type":"text","fontSize":4.8},"encoding":{"x":{"field":"t","type":"quantitative","scale":{"domain":[-9,254],"nice":false,"zero":false},"axis":null},"y":{"field":"g","type":"nominal","sort":["low","high"],"axis":{"title":null,"domain":false,"ticks":false,"labelAngle":0,"labelFontSize":4.8,"labelPadding":7,"labelColor":{"condition":{"test":"datum.value==='high'","value":"#ff0000"},"value":"#000000"}}},"text":{"field":"n","type":"nominal"},"color":{"field":"g","type":"nominal","scale":{"domain":["low","high"],"range":["#000000","#ff0000"]},"legend":null}}}]},
{"title":{"text":"E","anchor":"start","frame":"bounds","font":"Liberation Serif","fontSize":10,"offset":-12},"resolve":{"scale":{"color":"independent"},"legend":{"color":"independent"}},"vconcat":[{"width":136,"height":111,"title":"enriched CD8+ T cells","layer":[
{"data":{"name":"km"},"transform":[{"filter":"datum.p=='E'"}],"mark":{"type":"line","interpolate":"step-after","strokeWidth":0.7},"encoding":{"x":{"field":"t","type":"quantitative","scale":{"domain":[-9,254],"nice":false,"zero":false},"axis":{"values":[0,50,100,150,200,250],"tickCount":20,"title":"Time (months)"}},"y":{"field":"s","type":"quantitative","scale":{"domain":[-0.04,1.04],"nice":false,"zero":false},"axis":{"values":[0,0.2,0.4,0.6,0.8,1],"tickCount":20,"format":".1f","title":"Probability","labelAngle":-90,"labelOverlap":false,"labelBound":false}},"color":{"field":"g","type":"nominal","scale":{"domain":["low","high"],"range":["#000000","#ff0000"]},"legend":{"title":"Expression"}}}},
{"data":{"name":"km"},"transform":[{"filter":"datum.p=='E' && datum.c==1"}],"mark":{"type":"point","shape":"M-1,0H1M0,-1V1","size":12,"filled":false,"strokeWidth":0.6,"opacity":1},"encoding":{"x":{"field":"t","type":"quantitative"},"y":{"field":"s","type":"quantitative"},"color":{"field":"g","type":"nominal","legend":null}}},
{"data":{"name":"hr"},"transform":[{"filter":"datum.p=='E'"}],"mark":{"type":"text","align":"right","baseline":"top","lineBreak":"\n","fontSize":6,"dx":-2,"dy":2},"encoding":{"x":{"datum":254},"y":{"datum":1.04},"text":{"field":"txt"}}}]},
{"width":136,"height":11,"view":{"stroke":null},"title":{"text":"Number at risk","anchor":"start","frame":"group","fontSize":4.5,"offset":1},"data":{"name":"risk"},"transform":[{"filter":"datum.p=='E'"}],"mark":{"type":"text","fontSize":4.8},"encoding":{"x":{"field":"t","type":"quantitative","scale":{"domain":[-9,254],"nice":false,"zero":false},"axis":null},"y":{"field":"g","type":"nominal","sort":["low","high"],"axis":{"title":null,"domain":false,"ticks":false,"labelAngle":0,"labelFontSize":4.8,"labelPadding":7,"labelColor":{"condition":{"test":"datum.value==='high'","value":"#ff0000"},"value":"#000000"}}},"text":{"field":"n","type":"nominal"},"color":{"field":"g","type":"nominal","scale":{"domain":["low","high"],"range":["#000000","#ff0000"]},"legend":null}}}]},
{"title":{"text":"F","anchor":"start","frame":"bounds","font":"Liberation Serif","fontSize":10,"offset":-12},"resolve":{"scale":{"color":"independent"},"legend":{"color":"independent"}},"vconcat":[{"width":136,"height":111,"title":"decreased CD8+ T cells","layer":[
{"data":{"name":"km"},"transform":[{"filter":"datum.p=='F'"}],"mark":{"type":"line","interpolate":"step-after","strokeWidth":0.7},"encoding":{"x":{"field":"t","type":"quantitative","scale":{"domain":[-9,245],"nice":false,"zero":false},"axis":{"values":[0,50,100,150,200],"tickCount":20,"title":"Time (months)"}},"y":{"field":"s","type":"quantitative","scale":{"domain":[-0.04,1.04],"nice":false,"zero":false},"axis":{"values":[0,0.2,0.4,0.6,0.8,1],"tickCount":20,"format":".1f","title":"Probability","labelAngle":-90,"labelOverlap":false,"labelBound":false}},"color":{"field":"g","type":"nominal","scale":{"domain":["low","high"],"range":["#000000","#ff0000"]},"legend":{"title":"Expression"}}}},
{"data":{"name":"km"},"transform":[{"filter":"datum.p=='F' && datum.c==1"}],"mark":{"type":"point","shape":"M-1,0H1M0,-1V1","size":12,"filled":false,"strokeWidth":0.6,"opacity":1},"encoding":{"x":{"field":"t","type":"quantitative"},"y":{"field":"s","type":"quantitative"},"color":{"field":"g","type":"nominal","legend":null}}},
{"data":{"name":"hr"},"transform":[{"filter":"datum.p=='F'"}],"mark":{"type":"text","align":"right","baseline":"top","lineBreak":"\n","fontSize":6,"dx":-2,"dy":2},"encoding":{"x":{"datum":245},"y":{"datum":1.04},"text":{"field":"txt"}}}]},
{"width":136,"height":11,"view":{"stroke":null},"title":{"text":"Number at risk","anchor":"start","frame":"group","fontSize":4.5,"offset":1},"data":{"name":"risk"},"transform":[{"filter":"datum.p=='F'"}],"mark":{"type":"text","fontSize":4.8},"encoding":{"x":{"field":"t","type":"quantitative","scale":{"domain":[-9,245],"nice":false,"zero":false},"axis":null},"y":{"field":"g","type":"nominal","sort":["low","high"],"axis":{"title":null,"domain":false,"ticks":false,"labelAngle":0,"labelFontSize":4.8,"labelPadding":7,"labelColor":{"condition":{"test":"datum.value==='high'","value":"#ff0000"},"value":"#000000"}}},"text":{"field":"n","type":"nominal"},"color":{"field":"g","type":"nominal","scale":{"domain":["low","high"],"range":["#000000","#ff0000"]},"legend":null}}}]},
{"title":{"text":"G","anchor":"start","frame":"bounds","font":"Liberation Serif","fontSize":10,"offset":-12},"resolve":{"scale":{"color":"independent"},"legend":{"color":"independent"}},"vconcat":[{"width":136,"height":111,"title":"enriched Macrophages","layer":[
{"data":{"name":"km"},"transform":[{"filter":"datum.p=='G'"}],"mark":{"type":"line","interpolate":"step-after","strokeWidth":0.7},"encoding":{"x":{"field":"t","type":"quantitative","scale":{"domain":[-9,254],"nice":false,"zero":false},"axis":{"values":[0,50,100,150,200,250],"tickCount":20,"title":"Time (months)"}},"y":{"field":"s","type":"quantitative","scale":{"domain":[-0.04,1.04],"nice":false,"zero":false},"axis":{"values":[0,0.2,0.4,0.6,0.8,1],"tickCount":20,"format":".1f","title":"Probability","labelAngle":-90,"labelOverlap":false,"labelBound":false}},"color":{"field":"g","type":"nominal","scale":{"domain":["low","high"],"range":["#000000","#ff0000"]},"legend":{"title":"Expression"}}}},
{"data":{"name":"km"},"transform":[{"filter":"datum.p=='G' && datum.c==1"}],"mark":{"type":"point","shape":"M-1,0H1M0,-1V1","size":12,"filled":false,"strokeWidth":0.6,"opacity":1},"encoding":{"x":{"field":"t","type":"quantitative"},"y":{"field":"s","type":"quantitative"},"color":{"field":"g","type":"nominal","legend":null}}},
{"data":{"name":"hr"},"transform":[{"filter":"datum.p=='G'"}],"mark":{"type":"text","align":"right","baseline":"top","lineBreak":"\n","fontSize":6,"dx":-2,"dy":2},"encoding":{"x":{"datum":254},"y":{"datum":1.04},"text":{"field":"txt"}}}]},
{"width":136,"height":11,"view":{"stroke":null},"title":{"text":"Number at risk","anchor":"start","frame":"group","fontSize":4.5,"offset":1},"data":{"name":"risk"},"transform":[{"filter":"datum.p=='G'"}],"mark":{"type":"text","fontSize":4.8},"encoding":{"x":{"field":"t","type":"quantitative","scale":{"domain":[-9,254],"nice":false,"zero":false},"axis":null},"y":{"field":"g","type":"nominal","sort":["low","high"],"axis":{"title":null,"domain":false,"ticks":false,"labelAngle":0,"labelFontSize":4.8,"labelPadding":7,"labelColor":{"condition":{"test":"datum.value==='high'","value":"#ff0000"},"value":"#000000"}}},"text":{"field":"n","type":"nominal"},"color":{"field":"g","type":"nominal","scale":{"domain":["low","high"],"range":["#000000","#ff0000"]},"legend":null}}}]},
{"title":{"text":"H","anchor":"start","frame":"bounds","font":"Liberation Serif","fontSize":10,"offset":-12},"resolve":{"scale":{"color":"independent"},"legend":{"color":"independent"}},"vconcat":[{"width":136,"height":111,"title":"decreased Macrophages","layer":[
{"data":{"name":"km"},"transform":[{"filter":"datum.p=='H'"}],"mark":{"type":"line","interpolate":"step-after","strokeWidth":0.7},"encoding":{"x":{"field":"t","type":"quantitative","scale":{"domain":[-5,128],"nice":false,"zero":false},"axis":{"values":[0,20,40,60,80,100,120],"tickCount":20,"title":"Time (months)"}},"y":{"field":"s","type":"quantitative","scale":{"domain":[-0.04,1.04],"nice":false,"zero":false},"axis":{"values":[0,0.2,0.4,0.6,0.8,1],"tickCount":20,"format":".1f","title":"Probability","labelAngle":-90,"labelOverlap":false,"labelBound":false}},"color":{"field":"g","type":"nominal","scale":{"domain":["low","high"],"range":["#000000","#ff0000"]},"legend":{"title":"Expression"}}}},
{"data":{"name":"km"},"transform":[{"filter":"datum.p=='H' && datum.c==1"}],"mark":{"type":"point","shape":"M-1,0H1M0,-1V1","size":12,"filled":false,"strokeWidth":0.6,"opacity":1},"encoding":{"x":{"field":"t","type":"quantitative"},"y":{"field":"s","type":"quantitative"},"color":{"field":"g","type":"nominal","legend":null}}},
{"data":{"name":"hr"},"transform":[{"filter":"datum.p=='H'"}],"mark":{"type":"text","align":"right","baseline":"top","lineBreak":"\n","fontSize":6,"dx":-2,"dy":2},"encoding":{"x":{"datum":128},"y":{"datum":1.04},"text":{"field":"txt"}}}]},
{"width":136,"height":11,"view":{"stroke":null},"title":{"text":"Number at risk","anchor":"start","frame":"group","fontSize":4.5,"offset":1},"data":{"name":"risk"},"transform":[{"filter":"datum.p=='H'"}],"mark":{"type":"text","fontSize":4.8},"encoding":{"x":{"field":"t","type":"quantitative","scale":{"domain":[-5,128],"nice":false,"zero":false},"axis":null},"y":{"field":"g","type":"nominal","sort":["low","high"],"axis":{"title":null,"domain":false,"ticks":false,"labelAngle":0,"labelFontSize":4.8,"labelPadding":7,"labelColor":{"condition":{"test":"datum.value==='high'","value":"#ff0000"},"value":"#000000"}}},"text":{"field":"n","type":"nominal"},"color":{"field":"g","type":"nominal","scale":{"domain":["low","high"],"range":["#000000","#ff0000"]},"legend":null}}}]},
{"title":{"text":"I","anchor":"start","frame":"bounds","font":"Liberation Serif","fontSize":10,"offset":-12},"resolve":{"scale":{"color":"independent"},"legend":{"color":"independent"}},"vconcat":[{"width":136,"height":111,"title":"enriched Natural killer T cells","layer":[
{"data":{"name":"km"},"transform":[{"filter":"datum.p=='I'"}],"mark":{"type":"line","interpolate":"step-after","strokeWidth":0.7},"encoding":{"x":{"field":"t","type":"quantitative","scale":{"domain":[-9,254],"nice":false,"zero":false},"axis":{"values":[0,50,100,150,200,250],"tickCount":20,"title":"Time (months)"}},"y":{"field":"s","type":"quantitative","scale":{"domain":[-0.04,1.04],"nice":false,"zero":false},"axis":{"values":[0,0.2,0.4,0.6,0.8,1],"tickCount":20,"format":".1f","title":"Probability","labelAngle":-90,"labelOverlap":false,"labelBound":false}},"color":{"field":"g","type":"nominal","scale":{"domain":["low","high"],"range":["#000000","#ff0000"]},"legend":{"title":"Expression"}}}},
{"data":{"name":"km"},"transform":[{"filter":"datum.p=='I' && datum.c==1"}],"mark":{"type":"point","shape":"M-1,0H1M0,-1V1","size":12,"filled":false,"strokeWidth":0.6,"opacity":1},"encoding":{"x":{"field":"t","type":"quantitative"},"y":{"field":"s","type":"quantitative"},"color":{"field":"g","type":"nominal","legend":null}}},
{"data":{"name":"hr"},"transform":[{"filter":"datum.p=='I'"}],"mark":{"type":"text","align":"right","baseline":"top","lineBreak":"\n","fontSize":6,"dx":-2,"dy":2},"encoding":{"x":{"datum":254},"y":{"datum":1.04},"text":{"field":"txt"}}}]},
{"width":136,"height":11,"view":{"stroke":null},"title":{"text":"Number at risk","anchor":"start","frame":"group","fontSize":4.5,"offset":1},"data":{"name":"risk"},"transform":[{"filter":"datum.p=='I'"}],"mark":{"type":"text","fontSize":4.8},"encoding":{"x":{"field":"t","type":"quantitative","scale":{"domain":[-9,254],"nice":false,"zero":false},"axis":null},"y":{"field":"g","type":"nominal","sort":["low","high"],"axis":{"title":null,"domain":false,"ticks":false,"labelAngle":0,"labelFontSize":4.8,"labelPadding":7,"labelColor":{"condition":{"test":"datum.value==='high'","value":"#ff0000"},"value":"#000000"}}},"text":{"field":"n","type":"nominal"},"color":{"field":"g","type":"nominal","scale":{"domain":["low","high"],"range":["#000000","#ff0000"]},"legend":null}}}]},
{"title":{"text":"J","anchor":"start","frame":"bounds","font":"Liberation Serif","fontSize":10,"offset":-12},"resolve":{"scale":{"color":"independent"},"legend":{"color":"independent"}},"vconcat":[{"width":136,"height":111,"title":"decreased Natural killer T cells","layer":[
{"data":{"name":"km"},"transform":[{"filter":"datum.p=='J'"}],"mark":{"type":"line","interpolate":"step-after","strokeWidth":0.7},"encoding":{"x":{"field":"t","type":"quantitative","scale":{"domain":[-6.7,173.7],"nice":false,"zero":false},"axis":{"values":[0,50,100,150],"tickCount":20,"title":"Time (months)"}},"y":{"field":"s","type":"quantitative","scale":{"domain":[-0.04,1.04],"nice":false,"zero":false},"axis":{"values":[0,0.2,0.4,0.6,0.8,1],"tickCount":20,"format":".1f","title":"Probability","labelAngle":-90,"labelOverlap":false,"labelBound":false}},"color":{"field":"g","type":"nominal","scale":{"domain":["low","high"],"range":["#000000","#ff0000"]},"legend":{"title":"Expression"}}}},
{"data":{"name":"km"},"transform":[{"filter":"datum.p=='J' && datum.c==1"}],"mark":{"type":"point","shape":"M-1,0H1M0,-1V1","size":12,"filled":false,"strokeWidth":0.6,"opacity":1},"encoding":{"x":{"field":"t","type":"quantitative"},"y":{"field":"s","type":"quantitative"},"color":{"field":"g","type":"nominal","legend":null}}},
{"data":{"name":"hr"},"transform":[{"filter":"datum.p=='J'"}],"mark":{"type":"text","align":"right","baseline":"top","lineBreak":"\n","fontSize":6,"dx":-2,"dy":2},"encoding":{"x":{"datum":173.7},"y":{"datum":1.04},"text":{"field":"txt"}}}]},
{"width":136,"height":11,"view":{"stroke":null},"title":{"text":"Number at risk","anchor":"start","frame":"group","fontSize":4.5,"offset":1},"data":{"name":"risk"},"transform":[{"filter":"datum.p=='J'"}],"mark":{"type":"text","fontSize":4.8},"encoding":{"x":{"field":"t","type":"quantitative","scale":{"domain":[-6.7,173.7],"nice":false,"zero":false},"axis":null},"y":{"field":"g","type":"nominal","sort":["low","high"],"axis":{"title":null,"domain":false,"ticks":false,"labelAngle":0,"labelFontSize":4.8,"labelPadding":7,"labelColor":{"condition":{"test":"datum.value==='high'","value":"#ff0000"},"value":"#000000"}}},"text":{"field":"n","type":"nominal"},"color":{"field":"g","type":"nominal","scale":{"domain":["low","high"],"range":["#000000","#ff0000"]},"legend":null}}}]},
{"title":{"text":"K","anchor":"start","frame":"bounds","font":"Liberation Serif","fontSize":10,"offset":-12},"resolve":{"scale":{"color":"independent"},"legend":{"color":"independent"}},"vconcat":[{"width":136,"height":111,"title":"enriched Regulatory T cells","layer":[
{"data":{"name":"km"},"transform":[{"filter":"datum.p=='K'"}],"mark":{"type":"line","interpolate":"step-after","strokeWidth":0.7},"encoding":{"x":{"field":"t","type":"quantitative","scale":{"domain":[-6.6,171.6],"nice":false,"zero":false},"axis":{"values":[0,50,100,150],"tickCount":20,"title":"Time (months)"}},"y":{"field":"s","type":"quantitative","scale":{"domain":[-0.04,1.04],"nice":false,"zero":false},"axis":{"values":[0,0.2,0.4,0.6,0.8,1],"tickCount":20,"format":".1f","title":"Probability","labelAngle":-90,"labelOverlap":false,"labelBound":false}},"color":{"field":"g","type":"nominal","scale":{"domain":["low","high"],"range":["#000000","#ff0000"]},"legend":{"title":"Expression"}}}},
{"data":{"name":"km"},"transform":[{"filter":"datum.p=='K' && datum.c==1"}],"mark":{"type":"point","shape":"M-1,0H1M0,-1V1","size":12,"filled":false,"strokeWidth":0.6,"opacity":1},"encoding":{"x":{"field":"t","type":"quantitative"},"y":{"field":"s","type":"quantitative"},"color":{"field":"g","type":"nominal","legend":null}}},
{"data":{"name":"hr"},"transform":[{"filter":"datum.p=='K'"}],"mark":{"type":"text","align":"right","baseline":"top","lineBreak":"\n","fontSize":6,"dx":-2,"dy":2},"encoding":{"x":{"datum":171.6},"y":{"datum":1.04},"text":{"field":"txt"}}}]},
{"width":136,"height":11,"view":{"stroke":null},"title":{"text":"Number at risk","anchor":"start","frame":"group","fontSize":4.5,"offset":1},"data":{"name":"risk"},"transform":[{"filter":"datum.p=='K'"}],"mark":{"type":"text","fontSize":4.8},"encoding":{"x":{"field":"t","type":"quantitative","scale":{"domain":[-6.6,171.6],"nice":false,"zero":false},"axis":null},"y":{"field":"g","type":"nominal","sort":["low","high"],"axis":{"title":null,"domain":false,"ticks":false,"labelAngle":0,"labelFontSize":4.8,"labelPadding":7,"labelColor":{"condition":{"test":"datum.value==='high'","value":"#ff0000"},"value":"#000000"}}},"text":{"field":"n","type":"nominal"},"color":{"field":"g","type":"nominal","scale":{"domain":["low","high"],"range":["#000000","#ff0000"]},"legend":null}}}]},
{"title":{"text":"L","anchor":"start","frame":"bounds","font":"Liberation Serif","fontSize":10,"offset":-12},"resolve":{"scale":{"color":"independent"},"legend":{"color":"independent"}},"vconcat":[{"width":136,"height":111,"title":"decreased Regulatory T cells","layer":[
{"data":{"name":"km"},"transform":[{"filter":"datum.p=='L'"}],"mark":{"type":"line","interpolate":"step-after","strokeWidth":0.7},"encoding":{"x":{"field":"t","type":"quantitative","scale":{"domain":[-9,254],"nice":false,"zero":false},"axis":{"values":[0,50,100,150,200,250],"tickCount":20,"title":"Time (months)"}},"y":{"field":"s","type":"quantitative","scale":{"domain":[-0.04,1.04],"nice":false,"zero":false},"axis":{"values":[0,0.2,0.4,0.6,0.8,1],"tickCount":20,"format":".1f","title":"Probability","labelAngle":-90,"labelOverlap":false,"labelBound":false}},"color":{"field":"g","type":"nominal","scale":{"domain":["low","high"],"range":["#000000","#ff0000"]},"legend":{"title":"Expression"}}}},
{"data":{"name":"km"},"transform":[{"filter":"datum.p=='L' && datum.c==1"}],"mark":{"type":"point","shape":"M-1,0H1M0,-1V1","size":12,"filled":false,"strokeWidth":0.6,"opacity":1},"encoding":{"x":{"field":"t","type":"quantitative"},"y":{"field":"s","type":"quantitative"},"color":{"field":"g","type":"nominal","legend":null}}},
{"data":{"name":"hr"},"transform":[{"filter":"datum.p=='L'"}],"mark":{"type":"text","align":"right","baseline":"top","lineBreak":"\n","fontSize":6,"dx":-2,"dy":2},"encoding":{"x":{"datum":254},"y":{"datum":1.04},"text":{"field":"txt"}}}]},
{"width":136,"height":11,"view":{"stroke":null},"title":{"text":"Number at risk","anchor":"start","frame":"group","fontSize":4.5,"offset":1},"data":{"name":"risk"},"transform":[{"filter":"datum.p=='L'"}],"mark":{"type":"text","fontSize":4.8},"encoding":{"x":{"field":"t","type":"quantitative","scale":{"domain":[-9,254],"nice":false,"zero":false},"axis":null},"y":{"field":"g","type":"nominal","sort":["low","high"],"axis":{"title":null,"domain":false,"ticks":false,"labelAngle":0,"labelFontSize":4.8,"labelPadding":7,"labelColor":{"condition":{"test":"datum.value==='high'","value":"#ff0000"},"value":"#000000"}}},"text":{"field":"n","type":"nominal"},"color":{"field":"g","type":"nominal","scale":{"domain":["low","high"],"range":["#000000","#ff0000"]},"legend":null}}}]},
{"title":{"text":"M","anchor":"start","frame":"bounds","font":"Liberation Serif","fontSize":10,"offset":-12},"resolve":{"scale":{"color":"independent"},"legend":{"color":"independent"}},"vconcat":[{"width":136,"height":111,"title":"enriched Type 1 T helper cells","layer":[
{"data":{"name":"km"},"transform":[{"filter":"datum.p=='M'"}],"mark":{"type":"line","interpolate":"step-after","strokeWidth":0.7},"encoding":{"x":{"field":"t","type":"quantitative","scale":{"domain":[-9,245],"nice":false,"zero":false},"axis":{"values":[0,50,100,150,200],"tickCount":20,"title":"Time (months)"}},"y":{"field":"s","type":"quantitative","scale":{"domain":[-0.04,1.04],"nice":false,"zero":false},"axis":{"values":[0,0.2,0.4,0.6,0.8,1],"tickCount":20,"format":".1f","title":"Probability","labelAngle":-90,"labelOverlap":false,"labelBound":false}},"color":{"field":"g","type":"nominal","scale":{"domain":["low","high"],"range":["#000000","#ff0000"]},"legend":{"title":"Expression"}}}},
{"data":{"name":"km"},"transform":[{"filter":"datum.p=='M' && datum.c==1"}],"mark":{"type":"point","shape":"M-1,0H1M0,-1V1","size":12,"filled":false,"strokeWidth":0.6,"opacity":1},"encoding":{"x":{"field":"t","type":"quantitative"},"y":{"field":"s","type":"quantitative"},"color":{"field":"g","type":"nominal","legend":null}}},
{"data":{"name":"hr"},"transform":[{"filter":"datum.p=='M'"}],"mark":{"type":"text","align":"right","baseline":"top","lineBreak":"\n","fontSize":6,"dx":-2,"dy":2},"encoding":{"x":{"datum":245},"y":{"datum":1.04},"text":{"field":"txt"}}}]},
{"width":136,"height":11,"view":{"stroke":null},"title":{"text":"Number at risk","anchor":"start","frame":"group","fontSize":4.5,"offset":1},"data":{"name":"risk"},"transform":[{"filter":"datum.p=='M'"}],"mark":{"type":"text","fontSize":4.8},"encoding":{"x":{"field":"t","type":"quantitative","scale":{"domain":[-9,245],"nice":false,"zero":false},"axis":null},"y":{"field":"g","type":"nominal","sort":["low","high"],"axis":{"title":null,"domain":false,"ticks":false,"labelAngle":0,"labelFontSize":4.8,"labelPadding":7,"labelColor":{"condition":{"test":"datum.value==='high'","value":"#ff0000"},"value":"#000000"}}},"text":{"field":"n","type":"nominal"},"color":{"field":"g","type":"nominal","scale":{"domain":["low","high"],"range":["#000000","#ff0000"]},"legend":null}}}]},
{"title":{"text":"N","anchor":"start","frame":"bounds","font":"Liberation Serif","fontSize":10,"offset":-12},"resolve":{"scale":{"color":"independent"},"legend":{"color":"independent"}},"vconcat":[{"width":136,"height":111,"title":"decreased Type 1 T helper cells","layer":[
{"data":{"name":"km"},"transform":[{"filter":"datum.p=='N'"}],"mark":{"type":"line","interpolate":"step-after","strokeWidth":0.7},"encoding":{"x":{"field":"t","type":"quantitative","scale":{"domain":[-9,254],"nice":false,"zero":false},"axis":{"values":[0,50,100,150,200,250],"tickCount":20,"title":"Time (months)"}},"y":{"field":"s","type":"quantitative","scale":{"domain":[-0.04,1.04],"nice":false,"zero":false},"axis":{"values":[0,0.2,0.4,0.6,0.8,1],"tickCount":20,"format":".1f","title":"Probability","labelAngle":-90,"labelOverlap":false,"labelBound":false}},"color":{"field":"g","type":"nominal","scale":{"domain":["low","high"],"range":["#000000","#ff0000"]},"legend":{"title":"Expression"}}}},
{"data":{"name":"km"},"transform":[{"filter":"datum.p=='N' && datum.c==1"}],"mark":{"type":"point","shape":"M-1,0H1M0,-1V1","size":12,"filled":false,"strokeWidth":0.6,"opacity":1},"encoding":{"x":{"field":"t","type":"quantitative"},"y":{"field":"s","type":"quantitative"},"color":{"field":"g","type":"nominal","legend":null}}},
{"data":{"name":"hr"},"transform":[{"filter":"datum.p=='N'"}],"mark":{"type":"text","align":"right","baseline":"top","lineBreak":"\n","fontSize":6,"dx":-2,"dy":2},"encoding":{"x":{"datum":254},"y":{"datum":1.04},"text":{"field":"txt"}}}]},
{"width":136,"height":11,"view":{"stroke":null},"title":{"text":"Number at risk","anchor":"start","frame":"group","fontSize":4.5,"offset":1},"data":{"name":"risk"},"transform":[{"filter":"datum.p=='N'"}],"mark":{"type":"text","fontSize":4.8},"encoding":{"x":{"field":"t","type":"quantitative","scale":{"domain":[-9,254],"nice":false,"zero":false},"axis":null},"y":{"field":"g","type":"nominal","sort":["low","high"],"axis":{"title":null,"domain":false,"ticks":false,"labelAngle":0,"labelFontSize":4.8,"labelPadding":7,"labelColor":{"condition":{"test":"datum.value==='high'","value":"#ff0000"},"value":"#000000"}}},"text":{"field":"n","type":"nominal"},"color":{"field":"g","type":"nominal","scale":{"domain":["low","high"],"range":["#000000","#ff0000"]},"legend":null}}}]},
{"title":{"text":"O","anchor":"start","frame":"bounds","font":"Liberation Serif","fontSize":10,"offset":-12},"resolve":{"scale":{"color":"independent"},"legend":{"color":"independent"}},"vconcat":[{"width":136,"height":111,"title":"enriched Type 2 T helper cells","layer":[
{"data":{"name":"km"},"transform":[{"filter":"datum.p=='O'"}],"mark":{"type":"line","interpolate":"step-after","strokeWidth":0.7},"encoding":{"x":{"field":"t","type":"quantitative","scale":{"domain":[-6.6,171.6],"nice":false,"zero":false},"axis":{"values":[0,50,100,150],"tickCount":20,"title":"Time (months)"}},"y":{"field":"s","type":"quantitative","scale":{"domain":[-0.04,1.04],"nice":false,"zero":false},"axis":{"values":[0,0.2,0.4,0.6,0.8,1],"tickCount":20,"format":".1f","title":"Probability","labelAngle":-90,"labelOverlap":false,"labelBound":false}},"color":{"field":"g","type":"nominal","scale":{"domain":["low","high"],"range":["#000000","#ff0000"]},"legend":{"title":"Expression"}}}},
{"data":{"name":"km"},"transform":[{"filter":"datum.p=='O' && datum.c==1"}],"mark":{"type":"point","shape":"M-1,0H1M0,-1V1","size":12,"filled":false,"strokeWidth":0.6,"opacity":1},"encoding":{"x":{"field":"t","type":"quantitative"},"y":{"field":"s","type":"quantitative"},"color":{"field":"g","type":"nominal","legend":null}}},
{"data":{"name":"hr"},"transform":[{"filter":"datum.p=='O'"}],"mark":{"type":"text","align":"right","baseline":"top","lineBreak":"\n","fontSize":6,"dx":-2,"dy":2},"encoding":{"x":{"datum":171.6},"y":{"datum":1.04},"text":{"field":"txt"}}}]},
{"width":136,"height":11,"view":{"stroke":null},"title":{"text":"Number at risk","anchor":"start","frame":"group","fontSize":4.5,"offset":1},"data":{"name":"risk"},"transform":[{"filter":"datum.p=='O'"}],"mark":{"type":"text","fontSize":4.8},"encoding":{"x":{"field":"t","type":"quantitative","scale":{"domain":[-6.6,171.6],"nice":false,"zero":false},"axis":null},"y":{"field":"g","type":"nominal","sort":["low","high"],"axis":{"title":null,"domain":false,"ticks":false,"labelAngle":0,"labelFontSize":4.8,"labelPadding":7,"labelColor":{"condition":{"test":"datum.value==='high'","value":"#ff0000"},"value":"#000000"}}},"text":{"field":"n","type":"nominal"},"color":{"field":"g","type":"nominal","scale":{"domain":["low","high"],"range":["#000000","#ff0000"]},"legend":null}}}]},
{"title":{"text":"P","anchor":"start","frame":"bounds","font":"Liberation Serif","fontSize":10,"offset":-12},"resolve":{"scale":{"color":"independent"},"legend":{"color":"independent"}},"vconcat":[{"width":136,"height":111,"title":"decreased Type 2 T helper cells","layer":[
{"data":{"name":"km"},"transform":[{"filter":"datum.p=='P'"}],"mark":{"type":"line","interpolate":"step-after","strokeWidth":0.7},"encoding":{"x":{"field":"t","type":"quantitative","scale":{"domain":[-9,254],"nice":false,"zero":false},"axis":{"values":[0,50,100,150,200,250],"tickCount":20,"title":"Time (months)"}},"y":{"field":"s","type":"quantitative","scale":{"domain":[-0.04,1.04],"nice":false,"zero":false},"axis":{"values":[0,0.2,0.4,0.6,0.8,1],"tickCount":20,"format":".1f","title":"Probability","labelAngle":-90,"labelOverlap":false,"labelBound":false}},"color":{"field":"g","type":"nominal","scale":{"domain":["low","high"],"range":["#000000","#ff0000"]},"legend":{"title":"Expression"}}}},
{"data":{"name":"km"},"transform":[{"filter":"datum.p=='P' && datum.c==1"}],"mark":{"type":"point","shape":"M-1,0H1M0,-1V1","size":12,"filled":false,"strokeWidth":0.6,"opacity":1},"encoding":{"x":{"field":"t","type":"quantitative"},"y":{"field":"s","type":"quantitative"},"color":{"field":"g","type":"nominal","legend":null}}},
{"data":{"name":"hr"},"transform":[{"filter":"datum.p=='P'"}],"mark":{"type":"text","align":"right","baseline":"top","lineBreak":"\n","fontSize":6,"dx":-2,"dy":2},"encoding":{"x":{"datum":254},"y":{"datum":1.04},"text":{"field":"txt"}}}]},
{"width":136,"height":11,"view":{"stroke":null},"title":{"text":"Number at risk","anchor":"start","frame":"group","fontSize":4.5,"offset":1},"data":{"name":"risk"},"transform":[{"filter":"datum.p=='P'"}],"mark":{"type":"text","fontSize":4.8},"encoding":{"x":{"field":"t","type":"quantitative","scale":{"domain":[-9,254],"nice":false,"zero":false},"axis":null},"y":{"field":"g","type":"nominal","sort":["low","high"],"axis":{"title":null,"domain":false,"ticks":false,"labelAngle":0,"labelFontSize":4.8,"labelPadding":7,"labelColor":{"condition":{"test":"datum.value==='high'","value":"#ff0000"},"value":"#000000"}}},"text":{"field":"n","type":"nominal"},"color":{"field":"g","type":"nominal","scale":{"domain":["low","high"],"range":["#000000","#ff0000"]},"legend":null}}}]}
],
"config":{
"font":"Liberation Sans",
"background":"white",
"view":{"stroke":"#000000","strokeWidth":0.7},
"concat":{"spacing":1},
"axis":{"grid":false,"domain":false,"tickColor":"#000000","tickSize":3,"tickWidth":0.6,"tickCount":20,"labelFontSize":5.5,"labelColor":"#000000","titleFontSize":5.5,"titleFontWeight":"normal","titleColor":"#000000","labelPadding":1,"titlePadding":2,"labelFlush":false,"labelOverlap":false},
"title":{"fontSize":6,"fontWeight":"normal","color":"#000000","offset":7,"font":"Liberation Sans"},
"legend":{"orient":"bottom-left","offset":3,"padding":0,"titleFontSize":6,"titleFontWeight":"normal","titleColor":"#000000","labelFontSize":6,"labelColor":"#000000","symbolSize":150,"symbolStrokeWidth":0.8,"symbolType":"stroke","rowPadding":0,"titlePadding":1,"labelOffset":4}
}
}
